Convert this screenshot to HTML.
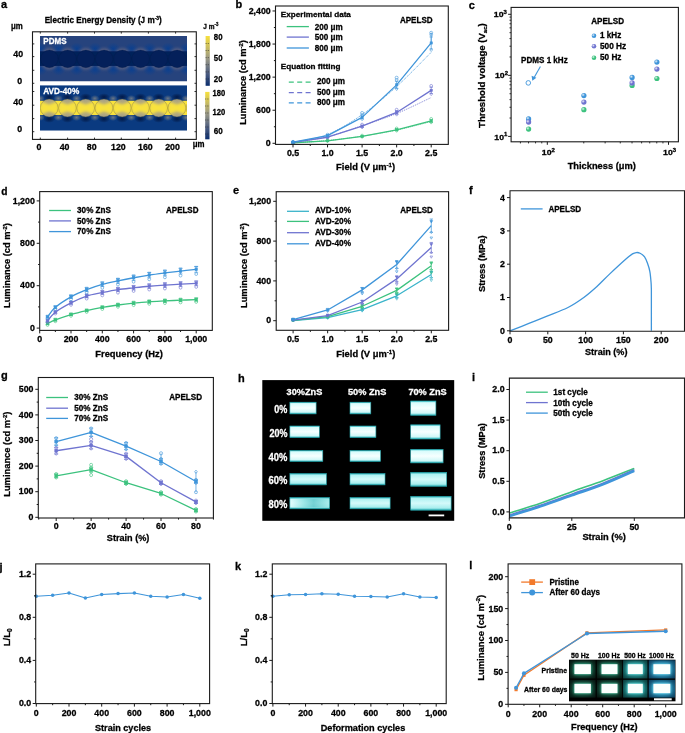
<!DOCTYPE html><html><head><meta charset="utf-8"><style>html,body{margin:0;padding:0;background:#fff;width:685px;height:733px;overflow:hidden}svg{display:block;will-change:transform}text{font-family:"Liberation Sans",sans-serif}</style></head><body>
<svg width="685" height="733" viewBox="0 0 685 733">
<rect width="685" height="733" fill="#fff"/>
<defs>
<linearGradient id="cbA" x1="0" y1="0" x2="0" y2="1">
 <stop offset="0" stop-color="#f7e03c"/><stop offset="0.45" stop-color="#9c9a86"/><stop offset="0.75" stop-color="#4d5d80"/><stop offset="1" stop-color="#0b2d6e"/></linearGradient>
<linearGradient id="circA" x1="0" y1="0" x2="0" y2="1">
 <stop offset="0" stop-color="#a8a186"/><stop offset="0.25" stop-color="#b4aa7c"/><stop offset="0.5" stop-color="#e6d44e"/><stop offset="0.75" stop-color="#b4aa7c"/><stop offset="1" stop-color="#a8a186"/></linearGradient>
<radialGradient id="glowP"><stop offset="0.78" stop-color="#827a8a" stop-opacity="0.75"/><stop offset="1" stop-color="#7a7488" stop-opacity="0"/></radialGradient>
<radialGradient id="glowB"><stop offset="0" stop-color="#0a4090" stop-opacity="0.95"/><stop offset="1" stop-color="#0a4090" stop-opacity="0"/></radialGradient>
<radialGradient id="darkA"><stop offset="0" stop-color="#021a4a" stop-opacity="1"/><stop offset="1" stop-color="#03143a" stop-opacity="0"/></radialGradient>
<radialGradient id="glowA"><stop offset="0" stop-color="#8a8a86" stop-opacity="0.75"/><stop offset="1" stop-color="#8a8a86" stop-opacity="0"/></radialGradient>
<radialGradient id="ball" cx="0.35" cy="0.35" r="0.7"><stop offset="0" stop-color="#fff" stop-opacity="0.85"/><stop offset="0.5" stop-color="#fff" stop-opacity="0"/></radialGradient>
<linearGradient id="strip" x1="0" y1="0" x2="0" y2="1"><stop offset="0" stop-color="#30c0c8"/><stop offset="0.12" stop-color="#d8fcfc"/><stop offset="0.5" stop-color="#f6ffff"/><stop offset="0.85" stop-color="#d0f8f8"/><stop offset="1" stop-color="#22b0b8"/></linearGradient>
<linearGradient id="strip2" x1="0" y1="0" x2="0" y2="1"><stop offset="0" stop-color="#28b0b8"/><stop offset="0.15" stop-color="#b0f2f2"/><stop offset="0.5" stop-color="#d4fafa"/><stop offset="0.85" stop-color="#a8eeee"/><stop offset="1" stop-color="#20a8b0"/></linearGradient>
<linearGradient id="strip3" x1="0" y1="0" x2="1" y2="0"><stop offset="0" stop-color="#f0ffff"/><stop offset="0.35" stop-color="#8ae0e0"/><stop offset="0.6" stop-color="#50c0c4"/><stop offset="1" stop-color="#9ae8e8"/></linearGradient>
<filter id="blur1" x="-50%" y="-50%" width="200%" height="200%"><feGaussianBlur stdDeviation="0.6"/></filter>
<filter id="blur2" x="-50%" y="-50%" width="200%" height="200%"><feGaussianBlur stdDeviation="1.5"/></filter>
</defs>
<text x="0.9" y="7.9" font-size="11" font-weight="bold" fill="#000" stroke="#000" stroke-width="0.28" >a</text>
<text x="44.7" y="23.4" font-size="8.4" font-weight="bold" fill="#000" stroke="#000" stroke-width="0.28" textLength="117" lengthAdjust="spacingAndGlyphs" >Electric Energy Density (J m<tspan font-size="5" dy="-3">-3</tspan><tspan dy="3">)</tspan></text>
<text x="11" y="29.3" font-size="8.4" font-weight="bold" fill="#000" stroke="#000" stroke-width="0.28" textLength="11.8" lengthAdjust="spacingAndGlyphs" >μm</text>
<clipPath id="clipP"><rect x="40" y="36" width="147" height="45.5"/></clipPath>
<clipPath id="clipA"><rect x="40" y="85.2" width="147" height="45.5"/></clipPath>
<g clip-path="url(#clipP)">
<rect x="40" y="36" width="147" height="45.5" fill="#26437d" />
<ellipse cx="40.27" cy="48.5" rx="7" ry="6" fill="url(#glowB)"/>
<ellipse cx="40.27" cy="69.5" rx="7" ry="6" fill="url(#glowB)"/>
<ellipse cx="58.52" cy="48.5" rx="7" ry="6" fill="url(#glowB)"/>
<ellipse cx="58.52" cy="69.5" rx="7" ry="6" fill="url(#glowB)"/>
<ellipse cx="76.78" cy="48.5" rx="7" ry="6" fill="url(#glowB)"/>
<ellipse cx="76.78" cy="69.5" rx="7" ry="6" fill="url(#glowB)"/>
<ellipse cx="95.03" cy="48.5" rx="7" ry="6" fill="url(#glowB)"/>
<ellipse cx="95.03" cy="69.5" rx="7" ry="6" fill="url(#glowB)"/>
<ellipse cx="113.28" cy="48.5" rx="7" ry="6" fill="url(#glowB)"/>
<ellipse cx="113.28" cy="69.5" rx="7" ry="6" fill="url(#glowB)"/>
<ellipse cx="131.53" cy="48.5" rx="7" ry="6" fill="url(#glowB)"/>
<ellipse cx="131.53" cy="69.5" rx="7" ry="6" fill="url(#glowB)"/>
<ellipse cx="149.78" cy="48.5" rx="7" ry="6" fill="url(#glowB)"/>
<ellipse cx="149.78" cy="69.5" rx="7" ry="6" fill="url(#glowB)"/>
<ellipse cx="168.03" cy="48.5" rx="7" ry="6" fill="url(#glowB)"/>
<ellipse cx="168.03" cy="69.5" rx="7" ry="6" fill="url(#glowB)"/>
<ellipse cx="186.28" cy="48.5" rx="7" ry="6" fill="url(#glowB)"/>
<ellipse cx="186.28" cy="69.5" rx="7" ry="6" fill="url(#glowB)"/>
<ellipse cx="204.53" cy="48.5" rx="7" ry="6" fill="url(#glowB)"/>
<ellipse cx="204.53" cy="69.5" rx="7" ry="6" fill="url(#glowB)"/>
<ellipse cx="31.15" cy="58.9" rx="9.5" ry="10.6" fill="#7d7688" opacity="0.6" filter="url(#blur2)"/>
<ellipse cx="49.4" cy="58.9" rx="9.5" ry="10.6" fill="#7d7688" opacity="0.6" filter="url(#blur2)"/>
<ellipse cx="67.65" cy="58.9" rx="9.5" ry="10.6" fill="#7d7688" opacity="0.6" filter="url(#blur2)"/>
<ellipse cx="85.9" cy="58.9" rx="9.5" ry="10.6" fill="#7d7688" opacity="0.6" filter="url(#blur2)"/>
<ellipse cx="104.15" cy="58.9" rx="9.5" ry="10.6" fill="#7d7688" opacity="0.6" filter="url(#blur2)"/>
<ellipse cx="122.4" cy="58.9" rx="9.5" ry="10.6" fill="#7d7688" opacity="0.6" filter="url(#blur2)"/>
<ellipse cx="140.65" cy="58.9" rx="9.5" ry="10.6" fill="#7d7688" opacity="0.6" filter="url(#blur2)"/>
<ellipse cx="158.9" cy="58.9" rx="9.5" ry="10.6" fill="#7d7688" opacity="0.6" filter="url(#blur2)"/>
<ellipse cx="177.15" cy="58.9" rx="9.5" ry="10.6" fill="#7d7688" opacity="0.6" filter="url(#blur2)"/>
<ellipse cx="195.4" cy="58.9" rx="9.5" ry="10.6" fill="#7d7688" opacity="0.6" filter="url(#blur2)"/>
<rect x="38" y="51.3" width="151" height="14.6" fill="#04205a" filter="url(#blur1)"/>
<circle cx="31.15" cy="58.9" r="8.8" fill="#04205a" stroke="#021a48" stroke-width="0.3"/>
<circle cx="49.4" cy="58.9" r="8.8" fill="#04205a" stroke="#021a48" stroke-width="0.3"/>
<circle cx="67.65" cy="58.9" r="8.8" fill="#04205a" stroke="#021a48" stroke-width="0.3"/>
<circle cx="85.9" cy="58.9" r="8.8" fill="#04205a" stroke="#021a48" stroke-width="0.3"/>
<circle cx="104.15" cy="58.9" r="8.8" fill="#04205a" stroke="#021a48" stroke-width="0.3"/>
<circle cx="122.4" cy="58.9" r="8.8" fill="#04205a" stroke="#021a48" stroke-width="0.3"/>
<circle cx="140.65" cy="58.9" r="8.8" fill="#04205a" stroke="#021a48" stroke-width="0.3"/>
<circle cx="158.9" cy="58.9" r="8.8" fill="#04205a" stroke="#021a48" stroke-width="0.3"/>
<circle cx="177.15" cy="58.9" r="8.8" fill="#04205a" stroke="#021a48" stroke-width="0.3"/>
<circle cx="195.4" cy="58.9" r="8.8" fill="#04205a" stroke="#021a48" stroke-width="0.3"/>
</g>
<text x="43.3" y="44.4" font-size="8.6" font-weight="bold" fill="#fff" stroke="#fff" stroke-width="0.28" textLength="23.2" lengthAdjust="spacingAndGlyphs" >PDMS</text>
<g clip-path="url(#clipA)">
<rect x="40" y="85.2" width="147" height="45.5" fill="#0a3a80" />
<ellipse cx="30.95" cy="97" rx="6" ry="3.8" fill="url(#darkA)"/>
<ellipse cx="30.95" cy="119" rx="6" ry="3.8" fill="url(#darkA)"/>
<ellipse cx="40.07" cy="98.5" rx="4.5" ry="3.5" fill="url(#glowA)"/>
<ellipse cx="40.07" cy="117.5" rx="4.5" ry="3.5" fill="url(#glowA)"/>
<ellipse cx="49.2" cy="97" rx="6" ry="3.8" fill="url(#darkA)"/>
<ellipse cx="49.2" cy="119" rx="6" ry="3.8" fill="url(#darkA)"/>
<ellipse cx="58.32" cy="98.5" rx="4.5" ry="3.5" fill="url(#glowA)"/>
<ellipse cx="58.32" cy="117.5" rx="4.5" ry="3.5" fill="url(#glowA)"/>
<ellipse cx="67.45" cy="97" rx="6" ry="3.8" fill="url(#darkA)"/>
<ellipse cx="67.45" cy="119" rx="6" ry="3.8" fill="url(#darkA)"/>
<ellipse cx="76.57" cy="98.5" rx="4.5" ry="3.5" fill="url(#glowA)"/>
<ellipse cx="76.57" cy="117.5" rx="4.5" ry="3.5" fill="url(#glowA)"/>
<ellipse cx="85.7" cy="97" rx="6" ry="3.8" fill="url(#darkA)"/>
<ellipse cx="85.7" cy="119" rx="6" ry="3.8" fill="url(#darkA)"/>
<ellipse cx="94.82" cy="98.5" rx="4.5" ry="3.5" fill="url(#glowA)"/>
<ellipse cx="94.82" cy="117.5" rx="4.5" ry="3.5" fill="url(#glowA)"/>
<ellipse cx="103.95" cy="97" rx="6" ry="3.8" fill="url(#darkA)"/>
<ellipse cx="103.95" cy="119" rx="6" ry="3.8" fill="url(#darkA)"/>
<ellipse cx="113.07" cy="98.5" rx="4.5" ry="3.5" fill="url(#glowA)"/>
<ellipse cx="113.07" cy="117.5" rx="4.5" ry="3.5" fill="url(#glowA)"/>
<ellipse cx="122.2" cy="97" rx="6" ry="3.8" fill="url(#darkA)"/>
<ellipse cx="122.2" cy="119" rx="6" ry="3.8" fill="url(#darkA)"/>
<ellipse cx="131.32" cy="98.5" rx="4.5" ry="3.5" fill="url(#glowA)"/>
<ellipse cx="131.32" cy="117.5" rx="4.5" ry="3.5" fill="url(#glowA)"/>
<ellipse cx="140.45" cy="97" rx="6" ry="3.8" fill="url(#darkA)"/>
<ellipse cx="140.45" cy="119" rx="6" ry="3.8" fill="url(#darkA)"/>
<ellipse cx="149.57" cy="98.5" rx="4.5" ry="3.5" fill="url(#glowA)"/>
<ellipse cx="149.57" cy="117.5" rx="4.5" ry="3.5" fill="url(#glowA)"/>
<ellipse cx="158.7" cy="97" rx="6" ry="3.8" fill="url(#darkA)"/>
<ellipse cx="158.7" cy="119" rx="6" ry="3.8" fill="url(#darkA)"/>
<ellipse cx="167.82" cy="98.5" rx="4.5" ry="3.5" fill="url(#glowA)"/>
<ellipse cx="167.82" cy="117.5" rx="4.5" ry="3.5" fill="url(#glowA)"/>
<ellipse cx="176.95" cy="97" rx="6" ry="3.8" fill="url(#darkA)"/>
<ellipse cx="176.95" cy="119" rx="6" ry="3.8" fill="url(#darkA)"/>
<ellipse cx="186.07" cy="98.5" rx="4.5" ry="3.5" fill="url(#glowA)"/>
<ellipse cx="186.07" cy="117.5" rx="4.5" ry="3.5" fill="url(#glowA)"/>
<ellipse cx="195.2" cy="97" rx="6" ry="3.8" fill="url(#darkA)"/>
<ellipse cx="195.2" cy="119" rx="6" ry="3.8" fill="url(#darkA)"/>
<ellipse cx="204.32" cy="98.5" rx="4.5" ry="3.5" fill="url(#glowA)"/>
<ellipse cx="204.32" cy="117.5" rx="4.5" ry="3.5" fill="url(#glowA)"/>
<rect x="38" y="100.8" width="151" height="14.2" fill="#f8e23c" filter="url(#blur1)"/>
<clipPath id="cc0"><circle cx="30.95" cy="108" r="8.9"/></clipPath>
<g clip-path="url(#cc0)"><rect x="22.05" y="99.1" width="17.8" height="17.8" fill="url(#circA)"/><polygon points="22.05,100.8 30.95,105 39.85,100.8 39.85,115.2 30.95,111 22.05,115.2" fill="#f8e23c" filter="url(#blur2)"/></g>
<circle cx="30.95" cy="108" r="8.9" fill="none" stroke="#6a6030" stroke-width="0.3"/>
<clipPath id="cc1"><circle cx="49.2" cy="108" r="8.9"/></clipPath>
<g clip-path="url(#cc1)"><rect x="40.3" y="99.1" width="17.8" height="17.8" fill="url(#circA)"/><polygon points="40.3,100.8 49.2,105 58.1,100.8 58.1,115.2 49.2,111 40.3,115.2" fill="#f8e23c" filter="url(#blur2)"/></g>
<circle cx="49.2" cy="108" r="8.9" fill="none" stroke="#6a6030" stroke-width="0.3"/>
<clipPath id="cc2"><circle cx="67.45" cy="108" r="8.9"/></clipPath>
<g clip-path="url(#cc2)"><rect x="58.55" y="99.1" width="17.8" height="17.8" fill="url(#circA)"/><polygon points="58.55,100.8 67.45,105 76.35,100.8 76.35,115.2 67.45,111 58.55,115.2" fill="#f8e23c" filter="url(#blur2)"/></g>
<circle cx="67.45" cy="108" r="8.9" fill="none" stroke="#6a6030" stroke-width="0.3"/>
<clipPath id="cc3"><circle cx="85.7" cy="108" r="8.9"/></clipPath>
<g clip-path="url(#cc3)"><rect x="76.8" y="99.1" width="17.8" height="17.8" fill="url(#circA)"/><polygon points="76.8,100.8 85.7,105 94.6,100.8 94.6,115.2 85.7,111 76.8,115.2" fill="#f8e23c" filter="url(#blur2)"/></g>
<circle cx="85.7" cy="108" r="8.9" fill="none" stroke="#6a6030" stroke-width="0.3"/>
<clipPath id="cc4"><circle cx="103.95" cy="108" r="8.9"/></clipPath>
<g clip-path="url(#cc4)"><rect x="95.05" y="99.1" width="17.8" height="17.8" fill="url(#circA)"/><polygon points="95.05,100.8 103.95,105 112.85,100.8 112.85,115.2 103.95,111 95.05,115.2" fill="#f8e23c" filter="url(#blur2)"/></g>
<circle cx="103.95" cy="108" r="8.9" fill="none" stroke="#6a6030" stroke-width="0.3"/>
<clipPath id="cc5"><circle cx="122.2" cy="108" r="8.9"/></clipPath>
<g clip-path="url(#cc5)"><rect x="113.3" y="99.1" width="17.8" height="17.8" fill="url(#circA)"/><polygon points="113.3,100.8 122.2,105 131.1,100.8 131.1,115.2 122.2,111 113.3,115.2" fill="#f8e23c" filter="url(#blur2)"/></g>
<circle cx="122.2" cy="108" r="8.9" fill="none" stroke="#6a6030" stroke-width="0.3"/>
<clipPath id="cc6"><circle cx="140.45" cy="108" r="8.9"/></clipPath>
<g clip-path="url(#cc6)"><rect x="131.55" y="99.1" width="17.8" height="17.8" fill="url(#circA)"/><polygon points="131.55,100.8 140.45,105 149.35,100.8 149.35,115.2 140.45,111 131.55,115.2" fill="#f8e23c" filter="url(#blur2)"/></g>
<circle cx="140.45" cy="108" r="8.9" fill="none" stroke="#6a6030" stroke-width="0.3"/>
<clipPath id="cc7"><circle cx="158.7" cy="108" r="8.9"/></clipPath>
<g clip-path="url(#cc7)"><rect x="149.8" y="99.1" width="17.8" height="17.8" fill="url(#circA)"/><polygon points="149.8,100.8 158.7,105 167.6,100.8 167.6,115.2 158.7,111 149.8,115.2" fill="#f8e23c" filter="url(#blur2)"/></g>
<circle cx="158.7" cy="108" r="8.9" fill="none" stroke="#6a6030" stroke-width="0.3"/>
<clipPath id="cc8"><circle cx="176.95" cy="108" r="8.9"/></clipPath>
<g clip-path="url(#cc8)"><rect x="168.05" y="99.1" width="17.8" height="17.8" fill="url(#circA)"/><polygon points="168.05,100.8 176.95,105 185.85,100.8 185.85,115.2 176.95,111 168.05,115.2" fill="#f8e23c" filter="url(#blur2)"/></g>
<circle cx="176.95" cy="108" r="8.9" fill="none" stroke="#6a6030" stroke-width="0.3"/>
<clipPath id="cc9"><circle cx="195.2" cy="108" r="8.9"/></clipPath>
<g clip-path="url(#cc9)"><rect x="186.3" y="99.1" width="17.8" height="17.8" fill="url(#circA)"/><polygon points="186.3,100.8 195.2,105 204.1,100.8 204.1,115.2 195.2,111 186.3,115.2" fill="#f8e23c" filter="url(#blur2)"/></g>
<circle cx="195.2" cy="108" r="8.9" fill="none" stroke="#6a6030" stroke-width="0.3"/>
</g>
<text x="43.3" y="94" font-size="8.6" font-weight="bold" fill="#fff" stroke="#fff" stroke-width="0.28" textLength="35.9" lengthAdjust="spacingAndGlyphs" >AVD-40%</text>
<rect x="32.5" y="31.8" width="163.8" height="107.6" fill="none" stroke="#1a1a1a" stroke-width="1.1" />
<line x1="32.5" y1="43.9" x2="34.3" y2="43.9" stroke="#1a1a1a" stroke-width="0.9" />
<line x1="194.5" y1="43.9" x2="196.3" y2="43.9" stroke="#1a1a1a" stroke-width="0.9" />
<line x1="32.5" y1="56.6" x2="34.3" y2="56.6" stroke="#1a1a1a" stroke-width="0.9" />
<line x1="194.5" y1="56.6" x2="196.3" y2="56.6" stroke="#1a1a1a" stroke-width="0.9" />
<line x1="32.5" y1="70.3" x2="34.3" y2="70.3" stroke="#1a1a1a" stroke-width="0.9" />
<line x1="194.5" y1="70.3" x2="196.3" y2="70.3" stroke="#1a1a1a" stroke-width="0.9" />
<line x1="32.5" y1="83.3" x2="34.3" y2="83.3" stroke="#1a1a1a" stroke-width="0.9" />
<line x1="194.5" y1="83.3" x2="196.3" y2="83.3" stroke="#1a1a1a" stroke-width="0.9" />
<line x1="32.5" y1="91.5" x2="34.3" y2="91.5" stroke="#1a1a1a" stroke-width="0.9" />
<line x1="194.5" y1="91.5" x2="196.3" y2="91.5" stroke="#1a1a1a" stroke-width="0.9" />
<line x1="32.5" y1="105.2" x2="34.3" y2="105.2" stroke="#1a1a1a" stroke-width="0.9" />
<line x1="194.5" y1="105.2" x2="196.3" y2="105.2" stroke="#1a1a1a" stroke-width="0.9" />
<line x1="32.5" y1="118.6" x2="34.3" y2="118.6" stroke="#1a1a1a" stroke-width="0.9" />
<line x1="194.5" y1="118.6" x2="196.3" y2="118.6" stroke="#1a1a1a" stroke-width="0.9" />
<line x1="32.5" y1="131.7" x2="34.3" y2="131.7" stroke="#1a1a1a" stroke-width="0.9" />
<line x1="194.5" y1="131.7" x2="196.3" y2="131.7" stroke="#1a1a1a" stroke-width="0.9" />
<line x1="40.3" y1="31.8" x2="40.3" y2="33.6" stroke="#1a1a1a" stroke-width="0.9" />
<line x1="40.3" y1="137.6" x2="40.3" y2="139.4" stroke="#1a1a1a" stroke-width="0.9" />
<line x1="67.6" y1="31.8" x2="67.6" y2="33.6" stroke="#1a1a1a" stroke-width="0.9" />
<line x1="67.6" y1="137.6" x2="67.6" y2="139.4" stroke="#1a1a1a" stroke-width="0.9" />
<line x1="94.5" y1="31.8" x2="94.5" y2="33.6" stroke="#1a1a1a" stroke-width="0.9" />
<line x1="94.5" y1="137.6" x2="94.5" y2="139.4" stroke="#1a1a1a" stroke-width="0.9" />
<line x1="121.3" y1="31.8" x2="121.3" y2="33.6" stroke="#1a1a1a" stroke-width="0.9" />
<line x1="121.3" y1="137.6" x2="121.3" y2="139.4" stroke="#1a1a1a" stroke-width="0.9" />
<line x1="148.4" y1="31.8" x2="148.4" y2="33.6" stroke="#1a1a1a" stroke-width="0.9" />
<line x1="148.4" y1="137.6" x2="148.4" y2="139.4" stroke="#1a1a1a" stroke-width="0.9" />
<line x1="175.6" y1="31.8" x2="175.6" y2="33.6" stroke="#1a1a1a" stroke-width="0.9" />
<line x1="175.6" y1="137.6" x2="175.6" y2="139.4" stroke="#1a1a1a" stroke-width="0.9" />
<text x="39" y="150" font-size="8.8" font-weight="bold" fill="#000" stroke="#000" stroke-width="0.28" text-anchor="middle" >0</text>
<text x="64.6" y="150" font-size="8.8" font-weight="bold" fill="#000" stroke="#000" stroke-width="0.28" text-anchor="middle" >40</text>
<text x="91.7" y="150" font-size="8.8" font-weight="bold" fill="#000" stroke="#000" stroke-width="0.28" text-anchor="middle" >80</text>
<text x="118.4" y="150" font-size="8.8" font-weight="bold" fill="#000" stroke="#000" stroke-width="0.28" text-anchor="middle" >120</text>
<text x="145.4" y="150" font-size="8.8" font-weight="bold" fill="#000" stroke="#000" stroke-width="0.28" text-anchor="middle" >160</text>
<text x="172.5" y="150" font-size="8.8" font-weight="bold" fill="#000" stroke="#000" stroke-width="0.28" text-anchor="middle" >200</text>
<text x="23.1" y="57" font-size="8.8" font-weight="bold" fill="#000" stroke="#000" stroke-width="0.28" text-anchor="end" >40</text>
<text x="22.2" y="83.5" font-size="8.8" font-weight="bold" fill="#000" stroke="#000" stroke-width="0.28" text-anchor="end" >0</text>
<text x="23.1" y="104.8" font-size="8.8" font-weight="bold" fill="#000" stroke="#000" stroke-width="0.28" text-anchor="end" >40</text>
<text x="22.2" y="131.5" font-size="8.8" font-weight="bold" fill="#000" stroke="#000" stroke-width="0.28" text-anchor="end" >0</text>
<text x="192.8" y="147" font-size="8.4" font-weight="bold" fill="#000" stroke="#000" stroke-width="0.28" textLength="11.8" lengthAdjust="spacingAndGlyphs" >μm</text>
<rect x="205.6" y="36" width="4.2" height="49.8" fill="url(#cbA)" />
<rect x="205.2" y="91.9" width="4.3" height="47.4" fill="url(#cbA)" />
<line x1="205.6" y1="43.5" x2="209.8" y2="43.5" stroke="#222" stroke-width="0.6" stroke-dasharray="1 1.2"/>
<line x1="205.6" y1="50.5" x2="209.8" y2="50.5" stroke="#222" stroke-width="0.6" stroke-dasharray="1 1.2"/>
<line x1="205.6" y1="57.6" x2="209.8" y2="57.6" stroke="#222" stroke-width="0.6" stroke-dasharray="1 1.2"/>
<line x1="205.6" y1="64.7" x2="209.8" y2="64.7" stroke="#222" stroke-width="0.6" stroke-dasharray="1 1.2"/>
<line x1="205.6" y1="71.9" x2="209.8" y2="71.9" stroke="#222" stroke-width="0.6" stroke-dasharray="1 1.2"/>
<line x1="205.6" y1="79" x2="209.8" y2="79" stroke="#222" stroke-width="0.6" stroke-dasharray="1 1.2"/>
<line x1="205.2" y1="99" x2="209.5" y2="99" stroke="#222" stroke-width="0.6" stroke-dasharray="1 1.2"/>
<line x1="205.2" y1="106" x2="209.5" y2="106" stroke="#222" stroke-width="0.6" stroke-dasharray="1 1.2"/>
<line x1="205.2" y1="113" x2="209.5" y2="113" stroke="#222" stroke-width="0.6" stroke-dasharray="1 1.2"/>
<line x1="205.2" y1="120" x2="209.5" y2="120" stroke="#222" stroke-width="0.6" stroke-dasharray="1 1.2"/>
<line x1="205.2" y1="127" x2="209.5" y2="127" stroke="#222" stroke-width="0.6" stroke-dasharray="1 1.2"/>
<line x1="205.2" y1="134" x2="209.5" y2="134" stroke="#222" stroke-width="0.6" stroke-dasharray="1 1.2"/>
<text x="203.3" y="28.8" font-size="6.8" font-weight="bold" fill="#000" stroke="#000" stroke-width="0.28" textLength="15" lengthAdjust="spacingAndGlyphs" >J m<tspan font-size="4.5" dy="-2.5">-3</tspan></text>
<text x="213.8" y="40" font-size="8.8" font-weight="bold" fill="#000" stroke="#000" stroke-width="0.28" textLength="8.7" lengthAdjust="spacingAndGlyphs" >80</text>
<text x="213.8" y="61.4" font-size="8.8" font-weight="bold" fill="#000" stroke="#000" stroke-width="0.28" textLength="8.7" lengthAdjust="spacingAndGlyphs" >50</text>
<text x="213.8" y="81.8" font-size="8.8" font-weight="bold" fill="#000" stroke="#000" stroke-width="0.28" textLength="8.7" lengthAdjust="spacingAndGlyphs" >20</text>
<text x="212.5" y="96.3" font-size="8.8" font-weight="bold" fill="#000" stroke="#000" stroke-width="0.28" textLength="12.7" lengthAdjust="spacingAndGlyphs" >180</text>
<text x="212.5" y="114.7" font-size="8.8" font-weight="bold" fill="#000" stroke="#000" stroke-width="0.28" textLength="12.7" lengthAdjust="spacingAndGlyphs" >120</text>
<text x="213.8" y="133.6" font-size="8.8" font-weight="bold" fill="#000" stroke="#000" stroke-width="0.28" textLength="9" lengthAdjust="spacingAndGlyphs" >60</text>
<text x="235.5" y="7.9" font-size="11" font-weight="bold" fill="#000" stroke="#000" stroke-width="0.28" >b</text>
<path d="M293,142.86 C298.76,142.47 316.03,141.66 327.55,140.54 C339.07,139.42 350.58,137.88 362.1,136.13 C373.62,134.39 385.13,132.5 396.65,130.07 C408.17,127.63 425.44,122.95 431.2,121.52" fill="none" stroke="#3cc27e" stroke-width="0.9" stroke-dasharray="1 1"/>
<path d="M293,142.64 C298.76,141.65 316.03,139.51 327.55,136.68 C339.07,133.85 350.58,129.52 362.1,125.66 C373.62,121.8 385.13,118.21 396.65,113.53 C408.17,108.84 425.44,100.2 431.2,97.54" fill="none" stroke="#6f74d0" stroke-width="0.9" stroke-dasharray="1 1"/>
<path d="M293,142.31 C298.76,141 316.03,139.09 327.55,134.48 C339.07,129.87 350.58,122.63 362.1,114.63 C373.62,106.64 385.13,96.9 396.65,86.51 C408.17,76.13 425.44,58.03 431.2,52.33" fill="none" stroke="#3f95da" stroke-width="0.9" stroke-dasharray="1 1"/>
<polyline points="293,142.75 327.55,140.82 362.1,136.41 396.65,129.79 431.2,120.97" fill="none" stroke="#3cc27e" stroke-width="1.3" stroke-linejoin="round" />
<line x1="293" y1="142.42" x2="293" y2="143.08" stroke="#3cc27e" stroke-width="0.7" />
<line x1="291.3" y1="142.42" x2="294.7" y2="142.42" stroke="#3cc27e" stroke-width="0.7" />
<line x1="291.3" y1="143.08" x2="294.7" y2="143.08" stroke="#3cc27e" stroke-width="0.7" />
<circle cx="293" cy="142.43" r="1.4" fill="none" stroke="#3cc27e" stroke-width="0.6"/>
<polygon points="293,141.23 294.3,142.79 293,144.35 291.7,142.79" fill="none" stroke="#3cc27e" stroke-width="0.6"/>
<rect x="291.9" y="141.65" width="2.2" height="2.2" fill="#3cc27e" stroke="#3cc27e" stroke-width="0.6"/>
<line x1="327.55" y1="140.49" x2="327.55" y2="141.15" stroke="#3cc27e" stroke-width="0.7" />
<line x1="325.85" y1="140.49" x2="329.25" y2="140.49" stroke="#3cc27e" stroke-width="0.7" />
<line x1="325.85" y1="141.15" x2="329.25" y2="141.15" stroke="#3cc27e" stroke-width="0.7" />
<circle cx="327.55" cy="140.34" r="1.4" fill="none" stroke="#3cc27e" stroke-width="0.6"/>
<polygon points="327.55,139.43 328.85,140.99 327.55,142.55 326.25,140.99" fill="none" stroke="#3cc27e" stroke-width="0.6"/>
<rect x="326.45" y="139.72" width="2.2" height="2.2" fill="#3cc27e" stroke="#3cc27e" stroke-width="0.6"/>
<line x1="362.1" y1="135.99" x2="362.1" y2="136.82" stroke="#3cc27e" stroke-width="0.7" />
<line x1="360.4" y1="135.99" x2="363.8" y2="135.99" stroke="#3cc27e" stroke-width="0.7" />
<line x1="360.4" y1="136.82" x2="363.8" y2="136.82" stroke="#3cc27e" stroke-width="0.7" />
<circle cx="362.1" cy="135.58" r="1.4" fill="none" stroke="#3cc27e" stroke-width="0.6"/>
<polygon points="362.1,135.33 363.4,136.89 362.1,138.45 360.8,136.89" fill="none" stroke="#3cc27e" stroke-width="0.6"/>
<rect x="361" y="135.31" width="2.2" height="2.2" fill="#3cc27e" stroke="#3cc27e" stroke-width="0.6"/>
<line x1="396.65" y1="128.98" x2="396.65" y2="130.6" stroke="#3cc27e" stroke-width="0.7" />
<line x1="394.95" y1="128.98" x2="398.35" y2="128.98" stroke="#3cc27e" stroke-width="0.7" />
<line x1="394.95" y1="130.6" x2="398.35" y2="130.6" stroke="#3cc27e" stroke-width="0.7" />
<circle cx="396.65" cy="128.44" r="1.4" fill="none" stroke="#3cc27e" stroke-width="0.6"/>
<polygon points="396.65,129.18 397.95,130.74 396.65,132.3 395.35,130.74" fill="none" stroke="#3cc27e" stroke-width="0.6"/>
<rect x="395.55" y="128.69" width="2.2" height="2.2" fill="#3cc27e" stroke="#3cc27e" stroke-width="0.6"/>
<line x1="431.2" y1="119.63" x2="431.2" y2="122.31" stroke="#3cc27e" stroke-width="0.7" />
<line x1="429.5" y1="119.63" x2="432.9" y2="119.63" stroke="#3cc27e" stroke-width="0.7" />
<line x1="429.5" y1="122.31" x2="432.9" y2="122.31" stroke="#3cc27e" stroke-width="0.7" />
<circle cx="431.2" cy="118.91" r="1.4" fill="none" stroke="#3cc27e" stroke-width="0.6"/>
<polygon points="431.2,120.97 432.5,122.53 431.2,124.09 429.9,122.53" fill="none" stroke="#3cc27e" stroke-width="0.6"/>
<rect x="430.1" y="119.87" width="2.2" height="2.2" fill="#3cc27e" stroke="#3cc27e" stroke-width="0.6"/>
<polyline points="293,142.47 327.55,137.24 362.1,126.21 396.65,112.43 431.2,90.37" fill="none" stroke="#6f74d0" stroke-width="1.3" stroke-linejoin="round" />
<line x1="293" y1="142.14" x2="293" y2="142.8" stroke="#6f74d0" stroke-width="0.7" />
<line x1="291.3" y1="142.14" x2="294.7" y2="142.14" stroke="#6f74d0" stroke-width="0.7" />
<line x1="291.3" y1="142.8" x2="294.7" y2="142.8" stroke="#6f74d0" stroke-width="0.7" />
<circle cx="293" cy="142.13" r="1.4" fill="none" stroke="#6f74d0" stroke-width="0.6"/>
<polygon points="293,140.97 294.3,142.53 293,144.09 291.7,142.53" fill="none" stroke="#6f74d0" stroke-width="0.6"/>
<rect x="291.9" y="141.37" width="2.2" height="2.2" fill="#6f74d0" stroke="#6f74d0" stroke-width="0.6"/>
<line x1="327.55" y1="136.87" x2="327.55" y2="137.6" stroke="#6f74d0" stroke-width="0.7" />
<line x1="325.85" y1="136.87" x2="329.25" y2="136.87" stroke="#6f74d0" stroke-width="0.7" />
<line x1="325.85" y1="137.6" x2="329.25" y2="137.6" stroke="#6f74d0" stroke-width="0.7" />
<circle cx="327.55" cy="136.47" r="1.4" fill="none" stroke="#6f74d0" stroke-width="0.6"/>
<polygon points="327.55,136.1 328.85,137.66 327.55,139.22 326.25,137.66" fill="none" stroke="#6f74d0" stroke-width="0.6"/>
<rect x="326.45" y="136.14" width="2.2" height="2.2" fill="#6f74d0" stroke="#6f74d0" stroke-width="0.6"/>
<line x1="362.1" y1="125.18" x2="362.1" y2="127.23" stroke="#6f74d0" stroke-width="0.7" />
<line x1="360.4" y1="125.18" x2="363.8" y2="125.18" stroke="#6f74d0" stroke-width="0.7" />
<line x1="360.4" y1="127.23" x2="363.8" y2="127.23" stroke="#6f74d0" stroke-width="0.7" />
<circle cx="362.1" cy="124.57" r="1.4" fill="none" stroke="#6f74d0" stroke-width="0.6"/>
<polygon points="362.1,125.85 363.4,127.41 362.1,128.97 360.8,127.41" fill="none" stroke="#6f74d0" stroke-width="0.6"/>
<rect x="361" y="125.11" width="2.2" height="2.2" fill="#6f74d0" stroke="#6f74d0" stroke-width="0.6"/>
<line x1="396.65" y1="110.57" x2="396.65" y2="114.28" stroke="#6f74d0" stroke-width="0.7" />
<line x1="394.95" y1="110.57" x2="398.35" y2="110.57" stroke="#6f74d0" stroke-width="0.7" />
<line x1="394.95" y1="114.28" x2="398.35" y2="114.28" stroke="#6f74d0" stroke-width="0.7" />
<circle cx="396.65" cy="109.68" r="1.4" fill="none" stroke="#6f74d0" stroke-width="0.6"/>
<polygon points="396.65,113.03 397.95,114.59 396.65,116.15 395.35,114.59" fill="none" stroke="#6f74d0" stroke-width="0.6"/>
<rect x="395.55" y="111.33" width="2.2" height="2.2" fill="#6f74d0" stroke="#6f74d0" stroke-width="0.6"/>
<line x1="431.2" y1="87.2" x2="431.2" y2="93.55" stroke="#6f74d0" stroke-width="0.7" />
<line x1="429.5" y1="87.2" x2="432.9" y2="87.2" stroke="#6f74d0" stroke-width="0.7" />
<line x1="429.5" y1="93.55" x2="432.9" y2="93.55" stroke="#6f74d0" stroke-width="0.7" />
<circle cx="431.2" cy="85.86" r="1.4" fill="none" stroke="#6f74d0" stroke-width="0.6"/>
<polygon points="431.2,92.52 432.5,94.08 431.2,95.64 429.9,94.08" fill="none" stroke="#6f74d0" stroke-width="0.6"/>
<rect x="430.1" y="89.27" width="2.2" height="2.2" fill="#6f74d0" stroke="#6f74d0" stroke-width="0.6"/>
<polyline points="293,142.09 327.55,135.58 362.1,117.39 396.65,84.86 431.2,42.96" fill="none" stroke="#3f95da" stroke-width="1.3" stroke-linejoin="round" />
<line x1="293" y1="141.76" x2="293" y2="142.42" stroke="#3f95da" stroke-width="0.7" />
<line x1="291.3" y1="141.76" x2="294.7" y2="141.76" stroke="#3f95da" stroke-width="0.7" />
<line x1="291.3" y1="142.42" x2="294.7" y2="142.42" stroke="#3f95da" stroke-width="0.7" />
<circle cx="293" cy="141.71" r="1.4" fill="none" stroke="#3f95da" stroke-width="0.6"/>
<polygon points="293,140.61 294.3,142.17 293,143.73 291.7,142.17" fill="none" stroke="#3f95da" stroke-width="0.6"/>
<rect x="291.9" y="140.99" width="2.2" height="2.2" fill="#3f95da" stroke="#3f95da" stroke-width="0.6"/>
<line x1="327.55" y1="135.12" x2="327.55" y2="136.04" stroke="#3f95da" stroke-width="0.7" />
<line x1="325.85" y1="135.12" x2="329.25" y2="135.12" stroke="#3f95da" stroke-width="0.7" />
<line x1="325.85" y1="136.04" x2="329.25" y2="136.04" stroke="#3f95da" stroke-width="0.7" />
<circle cx="327.55" cy="134.69" r="1.4" fill="none" stroke="#3f95da" stroke-width="0.6"/>
<polygon points="327.55,134.56 328.85,136.12 327.55,137.68 326.25,136.12" fill="none" stroke="#3f95da" stroke-width="0.6"/>
<rect x="326.45" y="134.48" width="2.2" height="2.2" fill="#3f95da" stroke="#3f95da" stroke-width="0.6"/>
<line x1="362.1" y1="115.83" x2="362.1" y2="118.94" stroke="#3f95da" stroke-width="0.7" />
<line x1="360.4" y1="115.83" x2="363.8" y2="115.83" stroke="#3f95da" stroke-width="0.7" />
<line x1="360.4" y1="118.94" x2="363.8" y2="118.94" stroke="#3f95da" stroke-width="0.7" />
<circle cx="362.1" cy="115.04" r="1.4" fill="none" stroke="#3f95da" stroke-width="0.6"/>
<polygon points="362.1,117.64 363.4,119.2 362.1,120.76 360.8,119.2" fill="none" stroke="#3f95da" stroke-width="0.6"/>
<rect x="361" y="116.29" width="2.2" height="2.2" fill="#3f95da" stroke="#3f95da" stroke-width="0.6"/>
<line x1="396.65" y1="81.35" x2="396.65" y2="88.37" stroke="#3f95da" stroke-width="0.7" />
<line x1="394.95" y1="81.35" x2="398.35" y2="81.35" stroke="#3f95da" stroke-width="0.7" />
<line x1="394.95" y1="88.37" x2="398.35" y2="88.37" stroke="#3f95da" stroke-width="0.7" />
<circle cx="396.65" cy="79.91" r="1.4" fill="none" stroke="#3f95da" stroke-width="0.6"/>
<polygon points="396.65,87.39 397.95,88.95 396.65,90.51 395.35,88.95" fill="none" stroke="#3f95da" stroke-width="0.6"/>
<rect x="395.55" y="83.76" width="2.2" height="2.2" fill="#3f95da" stroke="#3f95da" stroke-width="0.6"/>
<line x1="431.2" y1="36.94" x2="431.2" y2="48.98" stroke="#3f95da" stroke-width="0.7" />
<line x1="429.5" y1="36.94" x2="432.9" y2="36.94" stroke="#3f95da" stroke-width="0.7" />
<line x1="429.5" y1="48.98" x2="432.9" y2="48.98" stroke="#3f95da" stroke-width="0.7" />
<circle cx="431.2" cy="34.65" r="1.4" fill="none" stroke="#3f95da" stroke-width="0.6"/>
<polygon points="431.2,48.42 432.5,49.98 431.2,51.54 429.9,49.98" fill="none" stroke="#3f95da" stroke-width="0.6"/>
<rect x="430.1" y="41.86" width="2.2" height="2.2" fill="#3f95da" stroke="#3f95da" stroke-width="0.6"/>
<circle cx="431.2" cy="32.76" r="1.5" fill="none" stroke="#3f95da" stroke-width="0.6"/>
<line x1="431.2" y1="32.76" x2="431.2" y2="42.96" stroke="#3f95da" stroke-width="0.7" />
<circle cx="396.65" cy="77.69" r="1.5" fill="none" stroke="#3f95da" stroke-width="0.6"/>
<circle cx="362.1" cy="112.98" r="1.5" fill="none" stroke="#3f95da" stroke-width="0.6"/>
<rect x="275.5" y="6" width="172.8" height="138.4" fill="none" stroke="#1a1a1a" stroke-width="1.1" />
<line x1="272.5" y1="143.3" x2="275.5" y2="143.3" stroke="#1a1a1a" stroke-width="1" />
<line x1="272.5" y1="110.22" x2="275.5" y2="110.22" stroke="#1a1a1a" stroke-width="1" />
<line x1="272.5" y1="77.14" x2="275.5" y2="77.14" stroke="#1a1a1a" stroke-width="1" />
<line x1="272.5" y1="44.06" x2="275.5" y2="44.06" stroke="#1a1a1a" stroke-width="1" />
<line x1="272.5" y1="10.98" x2="275.5" y2="10.98" stroke="#1a1a1a" stroke-width="1" />
<line x1="273.9" y1="126.76" x2="275.5" y2="126.76" stroke="#1a1a1a" stroke-width="1" />
<line x1="273.9" y1="93.68" x2="275.5" y2="93.68" stroke="#1a1a1a" stroke-width="1" />
<line x1="273.9" y1="60.6" x2="275.5" y2="60.6" stroke="#1a1a1a" stroke-width="1" />
<line x1="273.9" y1="27.52" x2="275.5" y2="27.52" stroke="#1a1a1a" stroke-width="1" />
<text x="270.7" y="146.1" font-size="8.8" font-weight="bold" fill="#000" stroke="#000" stroke-width="0.28" text-anchor="end" >0</text>
<text x="270.7" y="113.02" font-size="8.8" font-weight="bold" fill="#000" stroke="#000" stroke-width="0.28" text-anchor="end" >600</text>
<text x="270.7" y="79.94" font-size="8.8" font-weight="bold" fill="#000" stroke="#000" stroke-width="0.28" text-anchor="end" >1,200</text>
<text x="270.7" y="46.86" font-size="8.8" font-weight="bold" fill="#000" stroke="#000" stroke-width="0.28" text-anchor="end" >1,800</text>
<text x="270.7" y="13.78" font-size="8.8" font-weight="bold" fill="#000" stroke="#000" stroke-width="0.28" text-anchor="end" >2,400</text>
<line x1="293" y1="144.4" x2="293" y2="147.4" stroke="#1a1a1a" stroke-width="1" />
<line x1="327.55" y1="144.4" x2="327.55" y2="147.4" stroke="#1a1a1a" stroke-width="1" />
<line x1="362.1" y1="144.4" x2="362.1" y2="147.4" stroke="#1a1a1a" stroke-width="1" />
<line x1="396.65" y1="144.4" x2="396.65" y2="147.4" stroke="#1a1a1a" stroke-width="1" />
<line x1="431.2" y1="144.4" x2="431.2" y2="147.4" stroke="#1a1a1a" stroke-width="1" />
<line x1="310.27" y1="144.4" x2="310.27" y2="146" stroke="#1a1a1a" stroke-width="1" />
<line x1="344.82" y1="144.4" x2="344.82" y2="146" stroke="#1a1a1a" stroke-width="1" />
<line x1="379.38" y1="144.4" x2="379.38" y2="146" stroke="#1a1a1a" stroke-width="1" />
<line x1="413.92" y1="144.4" x2="413.92" y2="146" stroke="#1a1a1a" stroke-width="1" />
<text x="293" y="156.3" font-size="8.8" font-weight="bold" fill="#000" stroke="#000" stroke-width="0.28" text-anchor="middle" >0.5</text>
<text x="327.55" y="156.3" font-size="8.8" font-weight="bold" fill="#000" stroke="#000" stroke-width="0.28" text-anchor="middle" >1.0</text>
<text x="362.1" y="156.3" font-size="8.8" font-weight="bold" fill="#000" stroke="#000" stroke-width="0.28" text-anchor="middle" >1.5</text>
<text x="396.65" y="156.3" font-size="8.8" font-weight="bold" fill="#000" stroke="#000" stroke-width="0.28" text-anchor="middle" >2.0</text>
<text x="431.2" y="156.3" font-size="8.8" font-weight="bold" fill="#000" stroke="#000" stroke-width="0.28" text-anchor="middle" >2.5</text>
<text x="246.1" y="124.8" font-size="9.6" font-weight="bold" fill="#000" stroke="#000" stroke-width="0.28" textLength="84.6" lengthAdjust="spacingAndGlyphs" transform="rotate(-90 246.1 124.8)" >Luminance (cd m<tspan font-size="6" dy="-3.5">-2</tspan><tspan dy="3.5">)</tspan></text>
<text x="336.1" y="170.1" font-size="9.2" font-weight="bold" fill="#000" stroke="#000" stroke-width="0.28" textLength="59" lengthAdjust="spacingAndGlyphs" >Field (V μm<tspan font-size="6" dy="-3.5">-1</tspan><tspan dy="3.5">)</tspan></text>
<text x="280.8" y="16.7" font-size="8" font-weight="bold" fill="#000" stroke="#000" stroke-width="0.28" textLength="70.1" lengthAdjust="spacingAndGlyphs" >Experimental data</text>
<line x1="286.7" y1="26.6" x2="308.9" y2="26.6" stroke="#3cc27e" stroke-width="1.3" />
<line x1="286.7" y1="37.1" x2="308.9" y2="37.1" stroke="#6f74d0" stroke-width="1.3" />
<line x1="286.7" y1="48" x2="308.9" y2="48" stroke="#3f95da" stroke-width="1.3" />
<text x="314.7" y="29.5" font-size="8.4" font-weight="bold" fill="#000" stroke="#000" stroke-width="0.28" textLength="28" lengthAdjust="spacingAndGlyphs" >200 μm</text>
<text x="314.7" y="40.2" font-size="8.4" font-weight="bold" fill="#000" stroke="#000" stroke-width="0.28" textLength="28" lengthAdjust="spacingAndGlyphs" >500 μm</text>
<text x="314.7" y="50.9" font-size="8.4" font-weight="bold" fill="#000" stroke="#000" stroke-width="0.28" textLength="28" lengthAdjust="spacingAndGlyphs" >800 μm</text>
<text x="280.8" y="68.8" font-size="8" font-weight="bold" fill="#000" stroke="#000" stroke-width="0.28" textLength="59.6" lengthAdjust="spacingAndGlyphs" >Equation fitting</text>
<line x1="288.8" y1="82.1" x2="310.6" y2="82.1" stroke="#3cc27e" stroke-width="1.3" stroke-dasharray="5 3.4"/>
<line x1="288.8" y1="92.6" x2="310.6" y2="92.6" stroke="#6f74d0" stroke-width="1.3" stroke-dasharray="5 3.4"/>
<line x1="288.8" y1="102.9" x2="310.6" y2="102.9" stroke="#3f95da" stroke-width="1.3" stroke-dasharray="5 3.4"/>
<text x="317" y="84.2" font-size="8.4" font-weight="bold" fill="#000" stroke="#000" stroke-width="0.28" textLength="28" lengthAdjust="spacingAndGlyphs" >200 μm</text>
<text x="317" y="94.7" font-size="8.4" font-weight="bold" fill="#000" stroke="#000" stroke-width="0.28" textLength="28" lengthAdjust="spacingAndGlyphs" >500 μm</text>
<text x="317" y="105" font-size="8.4" font-weight="bold" fill="#000" stroke="#000" stroke-width="0.28" textLength="28" lengthAdjust="spacingAndGlyphs" >800 μm</text>
<text x="399.9" y="22.6" font-size="8.4" font-weight="bold" fill="#000" stroke="#000" stroke-width="0.28" textLength="32.7" lengthAdjust="spacingAndGlyphs" >APELSD</text>
<text x="468.7" y="8.5" font-size="11" font-weight="bold" fill="#000" stroke="#000" stroke-width="0.28" >c</text>
<rect x="511.1" y="7.4" width="167.3" height="134.4" fill="none" stroke="#1a1a1a" stroke-width="1.1" />
<line x1="508.1" y1="136.4" x2="511.1" y2="136.4" stroke="#1a1a1a" stroke-width="1" />
<line x1="508.1" y1="75.35" x2="511.1" y2="75.35" stroke="#1a1a1a" stroke-width="1" />
<line x1="508.1" y1="14.3" x2="511.1" y2="14.3" stroke="#1a1a1a" stroke-width="1" />
<line x1="509.5" y1="118.02" x2="511.1" y2="118.02" stroke="#1a1a1a" stroke-width="0.9" />
<line x1="509.5" y1="107.27" x2="511.1" y2="107.27" stroke="#1a1a1a" stroke-width="0.9" />
<line x1="509.5" y1="99.64" x2="511.1" y2="99.64" stroke="#1a1a1a" stroke-width="0.9" />
<line x1="509.5" y1="93.73" x2="511.1" y2="93.73" stroke="#1a1a1a" stroke-width="0.9" />
<line x1="509.5" y1="88.89" x2="511.1" y2="88.89" stroke="#1a1a1a" stroke-width="0.9" />
<line x1="509.5" y1="84.81" x2="511.1" y2="84.81" stroke="#1a1a1a" stroke-width="0.9" />
<line x1="509.5" y1="81.27" x2="511.1" y2="81.27" stroke="#1a1a1a" stroke-width="0.9" />
<line x1="509.5" y1="78.14" x2="511.1" y2="78.14" stroke="#1a1a1a" stroke-width="0.9" />
<line x1="509.5" y1="56.97" x2="511.1" y2="56.97" stroke="#1a1a1a" stroke-width="0.9" />
<line x1="509.5" y1="46.22" x2="511.1" y2="46.22" stroke="#1a1a1a" stroke-width="0.9" />
<line x1="509.5" y1="38.59" x2="511.1" y2="38.59" stroke="#1a1a1a" stroke-width="0.9" />
<line x1="509.5" y1="32.68" x2="511.1" y2="32.68" stroke="#1a1a1a" stroke-width="0.9" />
<line x1="509.5" y1="27.84" x2="511.1" y2="27.84" stroke="#1a1a1a" stroke-width="0.9" />
<line x1="509.5" y1="23.76" x2="511.1" y2="23.76" stroke="#1a1a1a" stroke-width="0.9" />
<line x1="509.5" y1="20.22" x2="511.1" y2="20.22" stroke="#1a1a1a" stroke-width="0.9" />
<line x1="509.5" y1="17.09" x2="511.1" y2="17.09" stroke="#1a1a1a" stroke-width="0.9" />
<line x1="520.41" y1="141.8" x2="520.41" y2="143.4" stroke="#1a1a1a" stroke-width="0.9" />
<line x1="528.53" y1="141.8" x2="528.53" y2="143.4" stroke="#1a1a1a" stroke-width="0.9" />
<line x1="535.55" y1="141.8" x2="535.55" y2="143.4" stroke="#1a1a1a" stroke-width="0.9" />
<line x1="541.75" y1="141.8" x2="541.75" y2="143.4" stroke="#1a1a1a" stroke-width="0.9" />
<line x1="583.78" y1="141.8" x2="583.78" y2="143.4" stroke="#1a1a1a" stroke-width="0.9" />
<line x1="605.13" y1="141.8" x2="605.13" y2="143.4" stroke="#1a1a1a" stroke-width="0.9" />
<line x1="620.27" y1="141.8" x2="620.27" y2="143.4" stroke="#1a1a1a" stroke-width="0.9" />
<line x1="632.02" y1="141.8" x2="632.02" y2="143.4" stroke="#1a1a1a" stroke-width="0.9" />
<line x1="641.61" y1="141.8" x2="641.61" y2="143.4" stroke="#1a1a1a" stroke-width="0.9" />
<line x1="649.73" y1="141.8" x2="649.73" y2="143.4" stroke="#1a1a1a" stroke-width="0.9" />
<line x1="656.75" y1="141.8" x2="656.75" y2="143.4" stroke="#1a1a1a" stroke-width="0.9" />
<line x1="662.95" y1="141.8" x2="662.95" y2="143.4" stroke="#1a1a1a" stroke-width="0.9" />
<line x1="547.3" y1="141.8" x2="547.3" y2="144.8" stroke="#1a1a1a" stroke-width="1" />
<line x1="668.5" y1="141.8" x2="668.5" y2="144.8" stroke="#1a1a1a" stroke-width="1" />
<text x="493.8" y="17.4" font-size="8" font-weight="bold" fill="#000" stroke="#000" stroke-width="0.28" textLength="13" lengthAdjust="spacingAndGlyphs" >10<tspan font-size="5.5" dy="-3.5">3</tspan></text>
<text x="495" y="78.3" font-size="8" font-weight="bold" fill="#000" stroke="#000" stroke-width="0.28" textLength="13" lengthAdjust="spacingAndGlyphs" >10<tspan font-size="5.5" dy="-3.5">2</tspan></text>
<text x="494.3" y="139.6" font-size="8" font-weight="bold" fill="#000" stroke="#000" stroke-width="0.28" textLength="13" lengthAdjust="spacingAndGlyphs" >10<tspan font-size="5.5" dy="-3.5">1</tspan></text>
<text x="541.8" y="155" font-size="8" font-weight="bold" fill="#000" stroke="#000" stroke-width="0.28" textLength="13" lengthAdjust="spacingAndGlyphs" >10<tspan font-size="5.5" dy="-3.5">2</tspan></text>
<text x="663.1" y="155" font-size="8" font-weight="bold" fill="#000" stroke="#000" stroke-width="0.28" textLength="13" lengthAdjust="spacingAndGlyphs" >10<tspan font-size="5.5" dy="-3.5">3</tspan></text>
<text x="485" y="127.9" font-size="9.6" font-weight="bold" fill="#000" stroke="#000" stroke-width="0.28" textLength="104.6" lengthAdjust="spacingAndGlyphs" transform="rotate(-90 485 127.9)" >Threshold voltage  (V<tspan font-size="6" dy="2">ac</tspan><tspan dy="-2">)</tspan></text>
<text x="567.7" y="169.2" font-size="9.2" font-weight="bold" fill="#000" stroke="#000" stroke-width="0.28" textLength="68.1" lengthAdjust="spacingAndGlyphs" >Thickness (μm)</text>
<circle cx="528.6" cy="118.9" r="2.6" fill="#3f95da"/>
<circle cx="528.6" cy="118.9" r="2.6" fill="url(#ball)"/>
<circle cx="528.6" cy="122.1" r="2.6" fill="#6f74d0"/>
<circle cx="528.6" cy="122.1" r="2.6" fill="url(#ball)"/>
<circle cx="528.6" cy="129.1" r="2.6" fill="#3cc27e"/>
<circle cx="528.6" cy="129.1" r="2.6" fill="url(#ball)"/>
<circle cx="583.9" cy="95.6" r="2.6" fill="#3f95da"/>
<circle cx="583.9" cy="95.6" r="2.6" fill="url(#ball)"/>
<circle cx="583.9" cy="102.1" r="2.6" fill="#6f74d0"/>
<circle cx="583.9" cy="102.1" r="2.6" fill="url(#ball)"/>
<circle cx="583.9" cy="109.7" r="2.6" fill="#3cc27e"/>
<circle cx="583.9" cy="109.7" r="2.6" fill="url(#ball)"/>
<circle cx="632.1" cy="85.5" r="2.6" fill="#3cc27e"/>
<circle cx="632.1" cy="85.5" r="2.6" fill="url(#ball)"/>
<circle cx="632.1" cy="77.4" r="2.6" fill="#3f95da"/>
<circle cx="632.1" cy="77.4" r="2.6" fill="url(#ball)"/>
<circle cx="632.1" cy="82.9" r="2.6" fill="#6f74d0"/>
<circle cx="632.1" cy="82.9" r="2.6" fill="url(#ball)"/>
<circle cx="656.9" cy="62.1" r="2.6" fill="#3f95da"/>
<circle cx="656.9" cy="62.1" r="2.6" fill="url(#ball)"/>
<circle cx="656.9" cy="69.1" r="2.6" fill="#6f74d0"/>
<circle cx="656.9" cy="69.1" r="2.6" fill="url(#ball)"/>
<circle cx="656.9" cy="78.5" r="2.6" fill="#3cc27e"/>
<circle cx="656.9" cy="78.5" r="2.6" fill="url(#ball)"/>
<circle cx="528.3" cy="82.9" r="2.3" fill="#fff" stroke="#3f95da" stroke-width="0.9"/>
<line x1="540.4" y1="66.5" x2="533.6" y2="78.6" stroke="#3f95da" stroke-width="1.1" />
<polygon points="532.3,80.8 531.6,75.8 536.4,77.7" fill="#3f95da"/>
<text x="521.1" y="63.2" font-size="8.4" font-weight="bold" fill="#000" stroke="#000" stroke-width="0.28" textLength="46.6" lengthAdjust="spacingAndGlyphs" >PDMS 1 kHz</text>
<text x="591.2" y="23.8" font-size="8.4" font-weight="bold" fill="#000" stroke="#000" stroke-width="0.28" textLength="32.8" lengthAdjust="spacingAndGlyphs" >APELSD</text>
<circle cx="594" cy="35.8" r="2.3" fill="#3f95da"/>
<circle cx="594" cy="35.8" r="2.3" fill="url(#ball)"/>
<circle cx="594" cy="46.3" r="2.3" fill="#6f74d0"/>
<circle cx="594" cy="46.3" r="2.3" fill="url(#ball)"/>
<circle cx="594" cy="57.7" r="2.3" fill="#3cc27e"/>
<circle cx="594" cy="57.7" r="2.3" fill="url(#ball)"/>
<text x="600" y="38.2" font-size="8.4" font-weight="bold" fill="#000" stroke="#000" stroke-width="0.28" textLength="21.2" lengthAdjust="spacingAndGlyphs" >1 kHz</text>
<text x="600" y="48.8" font-size="8.4" font-weight="bold" fill="#000" stroke="#000" stroke-width="0.28" textLength="26.2" lengthAdjust="spacingAndGlyphs" >500 Hz</text>
<text x="600" y="60.2" font-size="8.4" font-weight="bold" fill="#000" stroke="#000" stroke-width="0.28" textLength="21.5" lengthAdjust="spacingAndGlyphs" >50 Hz</text>
<text x="1.2" y="195.3" font-size="10.2" font-weight="bold" fill="#000" stroke="#000" stroke-width="0.28" >d</text>
<path d="M47.53,323.65 C48.83,323.03 51.44,321.46 55.35,319.94 C59.26,318.42 65.78,316.09 71,314.53 C76.22,312.98 81.43,311.79 86.65,310.61 C91.87,309.43 97.08,308.37 102.3,307.43 C107.52,306.49 112.73,305.7 117.95,304.99 C123.17,304.29 128.38,303.72 133.6,303.19 C138.82,302.66 144.03,302.18 149.25,301.81 C154.47,301.44 159.68,301.23 164.9,300.96 C170.12,300.7 175.33,300.43 180.55,300.22 C185.77,300.01 193.59,299.78 196.2,299.69" fill="none" stroke="#3cc27e" stroke-width="1.3"/>
<line x1="47.53" y1="322.8" x2="47.53" y2="324.5" stroke="#3cc27e" stroke-width="0.7" />
<line x1="45.63" y1="322.8" x2="49.43" y2="322.8" stroke="#3cc27e" stroke-width="0.7" />
<line x1="45.63" y1="324.5" x2="49.43" y2="324.5" stroke="#3cc27e" stroke-width="0.7" />
<rect x="46.33" y="322.45" width="2.4" height="2.4" fill="#3cc27e" stroke="#3cc27e" stroke-width="0.6"/>
<polygon points="46.03,321.94 49.03,321.94 47.53,324.49" fill="none" stroke="#3cc27e" stroke-width="0.6"/>
<circle cx="47.53" cy="325" r="1.4" fill="none" stroke="#3cc27e" stroke-width="0.6"/>
<line x1="55.35" y1="319.09" x2="55.35" y2="320.79" stroke="#3cc27e" stroke-width="0.7" />
<line x1="53.45" y1="319.09" x2="57.25" y2="319.09" stroke="#3cc27e" stroke-width="0.7" />
<line x1="53.45" y1="320.79" x2="57.25" y2="320.79" stroke="#3cc27e" stroke-width="0.7" />
<rect x="54.15" y="318.74" width="2.4" height="2.4" fill="#3cc27e" stroke="#3cc27e" stroke-width="0.6"/>
<polygon points="53.85,318.23 56.85,318.23 55.35,320.78" fill="none" stroke="#3cc27e" stroke-width="0.6"/>
<circle cx="55.35" cy="321.29" r="1.4" fill="none" stroke="#3cc27e" stroke-width="0.6"/>
<line x1="71" y1="313.68" x2="71" y2="315.38" stroke="#3cc27e" stroke-width="0.7" />
<line x1="69.1" y1="313.68" x2="72.9" y2="313.68" stroke="#3cc27e" stroke-width="0.7" />
<line x1="69.1" y1="315.38" x2="72.9" y2="315.38" stroke="#3cc27e" stroke-width="0.7" />
<rect x="69.8" y="313.33" width="2.4" height="2.4" fill="#3cc27e" stroke="#3cc27e" stroke-width="0.6"/>
<polygon points="69.5,312.82 72.5,312.82 71,315.37" fill="none" stroke="#3cc27e" stroke-width="0.6"/>
<circle cx="71" cy="315.89" r="1.4" fill="none" stroke="#3cc27e" stroke-width="0.6"/>
<line x1="86.65" y1="309.74" x2="86.65" y2="311.48" stroke="#3cc27e" stroke-width="0.7" />
<line x1="84.75" y1="309.74" x2="88.55" y2="309.74" stroke="#3cc27e" stroke-width="0.7" />
<line x1="84.75" y1="311.48" x2="88.55" y2="311.48" stroke="#3cc27e" stroke-width="0.7" />
<rect x="85.45" y="309.41" width="2.4" height="2.4" fill="#3cc27e" stroke="#3cc27e" stroke-width="0.6"/>
<polygon points="85.15,308.89 88.15,308.89 86.65,311.44" fill="none" stroke="#3cc27e" stroke-width="0.6"/>
<circle cx="86.65" cy="312.01" r="1.4" fill="none" stroke="#3cc27e" stroke-width="0.6"/>
<line x1="102.3" y1="306.4" x2="102.3" y2="308.46" stroke="#3cc27e" stroke-width="0.7" />
<line x1="100.4" y1="306.4" x2="104.2" y2="306.4" stroke="#3cc27e" stroke-width="0.7" />
<line x1="100.4" y1="308.46" x2="104.2" y2="308.46" stroke="#3cc27e" stroke-width="0.7" />
<rect x="101.1" y="306.23" width="2.4" height="2.4" fill="#3cc27e" stroke="#3cc27e" stroke-width="0.6"/>
<polygon points="100.8,305.61 103.8,305.61 102.3,308.16" fill="none" stroke="#3cc27e" stroke-width="0.6"/>
<circle cx="102.3" cy="309.08" r="1.4" fill="none" stroke="#3cc27e" stroke-width="0.6"/>
<line x1="117.95" y1="303.84" x2="117.95" y2="306.15" stroke="#3cc27e" stroke-width="0.7" />
<line x1="116.05" y1="303.84" x2="119.85" y2="303.84" stroke="#3cc27e" stroke-width="0.7" />
<line x1="116.05" y1="306.15" x2="119.85" y2="306.15" stroke="#3cc27e" stroke-width="0.7" />
<rect x="116.75" y="303.79" width="2.4" height="2.4" fill="#3cc27e" stroke="#3cc27e" stroke-width="0.6"/>
<polygon points="116.45,303.1 119.45,303.1 117.95,305.65" fill="none" stroke="#3cc27e" stroke-width="0.6"/>
<circle cx="117.95" cy="306.84" r="1.4" fill="none" stroke="#3cc27e" stroke-width="0.6"/>
<line x1="133.6" y1="301.94" x2="133.6" y2="304.44" stroke="#3cc27e" stroke-width="0.7" />
<line x1="131.7" y1="301.94" x2="135.5" y2="301.94" stroke="#3cc27e" stroke-width="0.7" />
<line x1="131.7" y1="304.44" x2="135.5" y2="304.44" stroke="#3cc27e" stroke-width="0.7" />
<rect x="132.4" y="301.99" width="2.4" height="2.4" fill="#3cc27e" stroke="#3cc27e" stroke-width="0.6"/>
<polygon points="132.1,301.24 135.1,301.24 133.6,303.79" fill="none" stroke="#3cc27e" stroke-width="0.6"/>
<circle cx="133.6" cy="305.18" r="1.4" fill="none" stroke="#3cc27e" stroke-width="0.6"/>
<line x1="149.25" y1="300.5" x2="149.25" y2="303.13" stroke="#3cc27e" stroke-width="0.7" />
<line x1="147.35" y1="300.5" x2="151.15" y2="300.5" stroke="#3cc27e" stroke-width="0.7" />
<line x1="147.35" y1="303.13" x2="151.15" y2="303.13" stroke="#3cc27e" stroke-width="0.7" />
<rect x="148.05" y="300.61" width="2.4" height="2.4" fill="#3cc27e" stroke="#3cc27e" stroke-width="0.6"/>
<polygon points="147.75,299.82 150.75,299.82 149.25,302.37" fill="none" stroke="#3cc27e" stroke-width="0.6"/>
<circle cx="149.25" cy="303.92" r="1.4" fill="none" stroke="#3cc27e" stroke-width="0.6"/>
<line x1="164.9" y1="299.61" x2="164.9" y2="302.32" stroke="#3cc27e" stroke-width="0.7" />
<line x1="163" y1="299.61" x2="166.8" y2="299.61" stroke="#3cc27e" stroke-width="0.7" />
<line x1="163" y1="302.32" x2="166.8" y2="302.32" stroke="#3cc27e" stroke-width="0.7" />
<rect x="163.7" y="299.76" width="2.4" height="2.4" fill="#3cc27e" stroke="#3cc27e" stroke-width="0.6"/>
<polygon points="163.4,298.95 166.4,298.95 164.9,301.5" fill="none" stroke="#3cc27e" stroke-width="0.6"/>
<circle cx="164.9" cy="303.13" r="1.4" fill="none" stroke="#3cc27e" stroke-width="0.6"/>
<line x1="180.55" y1="298.83" x2="180.55" y2="301.62" stroke="#3cc27e" stroke-width="0.7" />
<line x1="178.65" y1="298.83" x2="182.45" y2="298.83" stroke="#3cc27e" stroke-width="0.7" />
<line x1="178.65" y1="301.62" x2="182.45" y2="301.62" stroke="#3cc27e" stroke-width="0.7" />
<rect x="179.35" y="299.02" width="2.4" height="2.4" fill="#3cc27e" stroke="#3cc27e" stroke-width="0.6"/>
<polygon points="179.05,298.19 182.05,298.19 180.55,300.74" fill="none" stroke="#3cc27e" stroke-width="0.6"/>
<circle cx="180.55" cy="302.45" r="1.4" fill="none" stroke="#3cc27e" stroke-width="0.6"/>
<line x1="196.2" y1="298.27" x2="196.2" y2="301.11" stroke="#3cc27e" stroke-width="0.7" />
<line x1="194.3" y1="298.27" x2="198.1" y2="298.27" stroke="#3cc27e" stroke-width="0.7" />
<line x1="194.3" y1="301.11" x2="198.1" y2="301.11" stroke="#3cc27e" stroke-width="0.7" />
<rect x="195" y="298.49" width="2.4" height="2.4" fill="#3cc27e" stroke="#3cc27e" stroke-width="0.6"/>
<polygon points="194.7,297.64 197.7,297.64 196.2,300.19" fill="none" stroke="#3cc27e" stroke-width="0.6"/>
<circle cx="196.2" cy="301.96" r="1.4" fill="none" stroke="#3cc27e" stroke-width="0.6"/>
<path d="M47.53,320.89 C48.83,319.44 51.44,315.2 55.35,312.2 C59.26,309.2 65.78,305.56 71,302.87 C76.22,300.19 81.43,297.8 86.65,296.09 C91.87,294.37 97.08,293.67 102.3,292.59 C107.52,291.51 112.73,290.42 117.95,289.62 C123.17,288.83 128.38,288.39 133.6,287.82 C138.82,287.25 144.03,286.67 149.25,286.23 C154.47,285.79 159.68,285.51 164.9,285.17 C170.12,284.83 175.33,284.52 180.55,284.22 C185.77,283.92 193.59,283.51 196.2,283.37" fill="none" stroke="#6f74d0" stroke-width="1.3"/>
<line x1="47.53" y1="320.04" x2="47.53" y2="321.74" stroke="#6f74d0" stroke-width="0.7" />
<line x1="45.63" y1="320.04" x2="49.43" y2="320.04" stroke="#6f74d0" stroke-width="0.7" />
<line x1="45.63" y1="321.74" x2="49.43" y2="321.74" stroke="#6f74d0" stroke-width="0.7" />
<rect x="46.33" y="319.69" width="2.4" height="2.4" fill="#6f74d0" stroke="#6f74d0" stroke-width="0.6"/>
<polygon points="46.03,319.18 49.03,319.18 47.53,321.73" fill="none" stroke="#6f74d0" stroke-width="0.6"/>
<circle cx="47.53" cy="322.25" r="1.4" fill="none" stroke="#6f74d0" stroke-width="0.6"/>
<line x1="55.35" y1="311.35" x2="55.35" y2="313.05" stroke="#6f74d0" stroke-width="0.7" />
<line x1="53.45" y1="311.35" x2="57.25" y2="311.35" stroke="#6f74d0" stroke-width="0.7" />
<line x1="53.45" y1="313.05" x2="57.25" y2="313.05" stroke="#6f74d0" stroke-width="0.7" />
<rect x="54.15" y="311" width="2.4" height="2.4" fill="#6f74d0" stroke="#6f74d0" stroke-width="0.6"/>
<polygon points="53.85,310.49 56.85,310.49 55.35,313.04" fill="none" stroke="#6f74d0" stroke-width="0.6"/>
<circle cx="55.35" cy="313.56" r="1.4" fill="none" stroke="#6f74d0" stroke-width="0.6"/>
<line x1="71" y1="301.61" x2="71" y2="304.13" stroke="#6f74d0" stroke-width="0.7" />
<line x1="69.1" y1="301.61" x2="72.9" y2="301.61" stroke="#6f74d0" stroke-width="0.7" />
<line x1="69.1" y1="304.13" x2="72.9" y2="304.13" stroke="#6f74d0" stroke-width="0.7" />
<rect x="69.8" y="301.67" width="2.4" height="2.4" fill="#6f74d0" stroke="#6f74d0" stroke-width="0.6"/>
<polygon points="69.5,300.92 72.5,300.92 71,303.47" fill="none" stroke="#6f74d0" stroke-width="0.6"/>
<circle cx="71" cy="304.89" r="1.4" fill="none" stroke="#6f74d0" stroke-width="0.6"/>
<line x1="86.65" y1="294.49" x2="86.65" y2="297.69" stroke="#6f74d0" stroke-width="0.7" />
<line x1="84.75" y1="294.49" x2="88.55" y2="294.49" stroke="#6f74d0" stroke-width="0.7" />
<line x1="84.75" y1="297.69" x2="88.55" y2="297.69" stroke="#6f74d0" stroke-width="0.7" />
<rect x="85.45" y="294.89" width="2.4" height="2.4" fill="#6f74d0" stroke="#6f74d0" stroke-width="0.6"/>
<polygon points="85.15,293.93 88.15,293.93 86.65,296.48" fill="none" stroke="#6f74d0" stroke-width="0.6"/>
<circle cx="86.65" cy="298.65" r="1.4" fill="none" stroke="#6f74d0" stroke-width="0.6"/>
<line x1="102.3" y1="290.81" x2="102.3" y2="294.37" stroke="#6f74d0" stroke-width="0.7" />
<line x1="100.4" y1="290.81" x2="104.2" y2="290.81" stroke="#6f74d0" stroke-width="0.7" />
<line x1="100.4" y1="294.37" x2="104.2" y2="294.37" stroke="#6f74d0" stroke-width="0.7" />
<rect x="101.1" y="291.39" width="2.4" height="2.4" fill="#6f74d0" stroke="#6f74d0" stroke-width="0.6"/>
<polygon points="100.8,290.32 103.8,290.32 102.3,292.87" fill="none" stroke="#6f74d0" stroke-width="0.6"/>
<circle cx="102.3" cy="295.43" r="1.4" fill="none" stroke="#6f74d0" stroke-width="0.6"/>
<line x1="117.95" y1="287.7" x2="117.95" y2="291.55" stroke="#6f74d0" stroke-width="0.7" />
<line x1="116.05" y1="287.7" x2="119.85" y2="287.7" stroke="#6f74d0" stroke-width="0.7" />
<line x1="116.05" y1="291.55" x2="119.85" y2="291.55" stroke="#6f74d0" stroke-width="0.7" />
<rect x="116.75" y="288.42" width="2.4" height="2.4" fill="#6f74d0" stroke="#6f74d0" stroke-width="0.6"/>
<polygon points="116.45,287.27 119.45,287.27 117.95,289.82" fill="none" stroke="#6f74d0" stroke-width="0.6"/>
<circle cx="117.95" cy="292.7" r="1.4" fill="none" stroke="#6f74d0" stroke-width="0.6"/>
<line x1="133.6" y1="285.81" x2="133.6" y2="289.83" stroke="#6f74d0" stroke-width="0.7" />
<line x1="131.7" y1="285.81" x2="135.5" y2="285.81" stroke="#6f74d0" stroke-width="0.7" />
<line x1="131.7" y1="289.83" x2="135.5" y2="289.83" stroke="#6f74d0" stroke-width="0.7" />
<rect x="132.4" y="286.62" width="2.4" height="2.4" fill="#6f74d0" stroke="#6f74d0" stroke-width="0.6"/>
<polygon points="132.1,285.41 135.1,285.41 133.6,287.96" fill="none" stroke="#6f74d0" stroke-width="0.6"/>
<circle cx="133.6" cy="291.04" r="1.4" fill="none" stroke="#6f74d0" stroke-width="0.6"/>
<line x1="149.25" y1="284.14" x2="149.25" y2="288.32" stroke="#6f74d0" stroke-width="0.7" />
<line x1="147.35" y1="284.14" x2="151.15" y2="284.14" stroke="#6f74d0" stroke-width="0.7" />
<line x1="147.35" y1="288.32" x2="151.15" y2="288.32" stroke="#6f74d0" stroke-width="0.7" />
<rect x="148.05" y="285.03" width="2.4" height="2.4" fill="#6f74d0" stroke="#6f74d0" stroke-width="0.6"/>
<polygon points="147.75,283.77 150.75,283.77 149.25,286.32" fill="none" stroke="#6f74d0" stroke-width="0.6"/>
<circle cx="149.25" cy="289.58" r="1.4" fill="none" stroke="#6f74d0" stroke-width="0.6"/>
<line x1="164.9" y1="283.02" x2="164.9" y2="287.32" stroke="#6f74d0" stroke-width="0.7" />
<line x1="163" y1="283.02" x2="166.8" y2="283.02" stroke="#6f74d0" stroke-width="0.7" />
<line x1="163" y1="287.32" x2="166.8" y2="287.32" stroke="#6f74d0" stroke-width="0.7" />
<rect x="163.7" y="283.97" width="2.4" height="2.4" fill="#6f74d0" stroke="#6f74d0" stroke-width="0.6"/>
<polygon points="163.4,282.68 166.4,282.68 164.9,285.23" fill="none" stroke="#6f74d0" stroke-width="0.6"/>
<circle cx="164.9" cy="288.6" r="1.4" fill="none" stroke="#6f74d0" stroke-width="0.6"/>
<line x1="180.55" y1="282.02" x2="180.55" y2="286.41" stroke="#6f74d0" stroke-width="0.7" />
<line x1="178.65" y1="282.02" x2="182.45" y2="282.02" stroke="#6f74d0" stroke-width="0.7" />
<line x1="178.65" y1="286.41" x2="182.45" y2="286.41" stroke="#6f74d0" stroke-width="0.7" />
<rect x="179.35" y="283.02" width="2.4" height="2.4" fill="#6f74d0" stroke="#6f74d0" stroke-width="0.6"/>
<polygon points="179.05,281.7 182.05,281.7 180.55,284.25" fill="none" stroke="#6f74d0" stroke-width="0.6"/>
<circle cx="180.55" cy="287.73" r="1.4" fill="none" stroke="#6f74d0" stroke-width="0.6"/>
<line x1="196.2" y1="281.13" x2="196.2" y2="285.6" stroke="#6f74d0" stroke-width="0.7" />
<line x1="194.3" y1="281.13" x2="198.1" y2="281.13" stroke="#6f74d0" stroke-width="0.7" />
<line x1="194.3" y1="285.6" x2="198.1" y2="285.6" stroke="#6f74d0" stroke-width="0.7" />
<rect x="195" y="282.17" width="2.4" height="2.4" fill="#6f74d0" stroke="#6f74d0" stroke-width="0.6"/>
<polygon points="194.7,280.83 197.7,280.83 196.2,283.38" fill="none" stroke="#6f74d0" stroke-width="0.6"/>
<circle cx="196.2" cy="286.95" r="1.4" fill="none" stroke="#6f74d0" stroke-width="0.6"/>
<path d="M47.53,316.97 C48.83,315.36 51.44,310.68 55.35,307.32 C59.26,303.97 65.78,299.78 71,296.83 C76.22,293.88 81.43,291.71 86.65,289.62 C91.87,287.54 97.08,285.79 102.3,284.32 C107.52,282.86 112.73,281.92 117.95,280.82 C123.17,279.73 128.38,278.7 133.6,277.75 C138.82,276.8 144.03,275.9 149.25,275.1 C154.47,274.31 159.68,273.65 164.9,272.98 C170.12,272.31 175.33,271.67 180.55,271.07 C185.77,270.47 193.59,269.66 196.2,269.38" fill="none" stroke="#3f95da" stroke-width="1.3"/>
<line x1="47.53" y1="316.12" x2="47.53" y2="317.82" stroke="#3f95da" stroke-width="0.7" />
<line x1="45.63" y1="316.12" x2="49.43" y2="316.12" stroke="#3f95da" stroke-width="0.7" />
<line x1="45.63" y1="317.82" x2="49.43" y2="317.82" stroke="#3f95da" stroke-width="0.7" />
<rect x="46.33" y="315.77" width="2.4" height="2.4" fill="#3f95da" stroke="#3f95da" stroke-width="0.6"/>
<polygon points="46.03,315.26 49.03,315.26 47.53,317.81" fill="none" stroke="#3f95da" stroke-width="0.6"/>
<circle cx="47.53" cy="318.33" r="1.4" fill="none" stroke="#3f95da" stroke-width="0.6"/>
<line x1="55.35" y1="306.29" x2="55.35" y2="308.36" stroke="#3f95da" stroke-width="0.7" />
<line x1="53.45" y1="306.29" x2="57.25" y2="306.29" stroke="#3f95da" stroke-width="0.7" />
<line x1="53.45" y1="308.36" x2="57.25" y2="308.36" stroke="#3f95da" stroke-width="0.7" />
<rect x="54.15" y="306.12" width="2.4" height="2.4" fill="#3f95da" stroke="#3f95da" stroke-width="0.6"/>
<polygon points="53.85,305.5 56.85,305.5 55.35,308.05" fill="none" stroke="#3f95da" stroke-width="0.6"/>
<circle cx="55.35" cy="308.99" r="1.4" fill="none" stroke="#3f95da" stroke-width="0.6"/>
<line x1="71" y1="295.27" x2="71" y2="298.39" stroke="#3f95da" stroke-width="0.7" />
<line x1="69.1" y1="295.27" x2="72.9" y2="295.27" stroke="#3f95da" stroke-width="0.7" />
<line x1="69.1" y1="298.39" x2="72.9" y2="298.39" stroke="#3f95da" stroke-width="0.7" />
<rect x="69.8" y="295.63" width="2.4" height="2.4" fill="#3f95da" stroke="#3f95da" stroke-width="0.6"/>
<polygon points="69.5,294.69 72.5,294.69 71,297.24" fill="none" stroke="#3f95da" stroke-width="0.6"/>
<circle cx="71" cy="299.33" r="1.4" fill="none" stroke="#3f95da" stroke-width="0.6"/>
<line x1="86.65" y1="287.7" x2="86.65" y2="291.55" stroke="#3f95da" stroke-width="0.7" />
<line x1="84.75" y1="287.7" x2="88.55" y2="287.7" stroke="#3f95da" stroke-width="0.7" />
<line x1="84.75" y1="291.55" x2="88.55" y2="291.55" stroke="#3f95da" stroke-width="0.7" />
<rect x="85.45" y="288.42" width="2.4" height="2.4" fill="#3f95da" stroke="#3f95da" stroke-width="0.6"/>
<polygon points="85.15,287.27 88.15,287.27 86.65,289.82" fill="none" stroke="#3f95da" stroke-width="0.6"/>
<circle cx="86.65" cy="292.7" r="1.4" fill="none" stroke="#3f95da" stroke-width="0.6"/>
<line x1="102.3" y1="282.13" x2="102.3" y2="286.51" stroke="#3f95da" stroke-width="0.7" />
<line x1="100.4" y1="282.13" x2="104.2" y2="282.13" stroke="#3f95da" stroke-width="0.7" />
<line x1="100.4" y1="286.51" x2="104.2" y2="286.51" stroke="#3f95da" stroke-width="0.7" />
<rect x="101.1" y="283.12" width="2.4" height="2.4" fill="#3f95da" stroke="#3f95da" stroke-width="0.6"/>
<polygon points="100.8,281.81 103.8,281.81 102.3,284.36" fill="none" stroke="#3f95da" stroke-width="0.6"/>
<circle cx="102.3" cy="287.82" r="1.4" fill="none" stroke="#3f95da" stroke-width="0.6"/>
<line x1="117.95" y1="278.46" x2="117.95" y2="283.19" stroke="#3f95da" stroke-width="0.7" />
<line x1="116.05" y1="278.46" x2="119.85" y2="278.46" stroke="#3f95da" stroke-width="0.7" />
<line x1="116.05" y1="283.19" x2="119.85" y2="283.19" stroke="#3f95da" stroke-width="0.7" />
<rect x="116.75" y="279.62" width="2.4" height="2.4" fill="#3f95da" stroke="#3f95da" stroke-width="0.6"/>
<polygon points="116.45,278.21 119.45,278.21 117.95,280.76" fill="none" stroke="#3f95da" stroke-width="0.6"/>
<circle cx="117.95" cy="284.61" r="1.4" fill="none" stroke="#3f95da" stroke-width="0.6"/>
<line x1="133.6" y1="275.23" x2="133.6" y2="280.27" stroke="#3f95da" stroke-width="0.7" />
<line x1="131.7" y1="275.23" x2="135.5" y2="275.23" stroke="#3f95da" stroke-width="0.7" />
<line x1="131.7" y1="280.27" x2="135.5" y2="280.27" stroke="#3f95da" stroke-width="0.7" />
<rect x="132.4" y="276.55" width="2.4" height="2.4" fill="#3f95da" stroke="#3f95da" stroke-width="0.6"/>
<polygon points="132.1,275.04 135.1,275.04 133.6,277.59" fill="none" stroke="#3f95da" stroke-width="0.6"/>
<circle cx="133.6" cy="281.78" r="1.4" fill="none" stroke="#3f95da" stroke-width="0.6"/>
<line x1="149.25" y1="272.45" x2="149.25" y2="277.75" stroke="#3f95da" stroke-width="0.7" />
<line x1="147.35" y1="272.45" x2="151.15" y2="272.45" stroke="#3f95da" stroke-width="0.7" />
<line x1="147.35" y1="277.75" x2="151.15" y2="277.75" stroke="#3f95da" stroke-width="0.7" />
<rect x="148.05" y="273.9" width="2.4" height="2.4" fill="#3f95da" stroke="#3f95da" stroke-width="0.6"/>
<polygon points="147.75,272.31 150.75,272.31 149.25,274.86" fill="none" stroke="#3f95da" stroke-width="0.6"/>
<circle cx="149.25" cy="279.34" r="1.4" fill="none" stroke="#3f95da" stroke-width="0.6"/>
<line x1="164.9" y1="270.22" x2="164.9" y2="275.74" stroke="#3f95da" stroke-width="0.7" />
<line x1="163" y1="270.22" x2="166.8" y2="270.22" stroke="#3f95da" stroke-width="0.7" />
<line x1="163" y1="275.74" x2="166.8" y2="275.74" stroke="#3f95da" stroke-width="0.7" />
<rect x="163.7" y="271.78" width="2.4" height="2.4" fill="#3f95da" stroke="#3f95da" stroke-width="0.6"/>
<polygon points="163.4,270.13 166.4,270.13 164.9,272.68" fill="none" stroke="#3f95da" stroke-width="0.6"/>
<circle cx="164.9" cy="277.39" r="1.4" fill="none" stroke="#3f95da" stroke-width="0.6"/>
<line x1="180.55" y1="268.22" x2="180.55" y2="273.92" stroke="#3f95da" stroke-width="0.7" />
<line x1="178.65" y1="268.22" x2="182.45" y2="268.22" stroke="#3f95da" stroke-width="0.7" />
<line x1="178.65" y1="273.92" x2="182.45" y2="273.92" stroke="#3f95da" stroke-width="0.7" />
<rect x="179.35" y="269.87" width="2.4" height="2.4" fill="#3f95da" stroke="#3f95da" stroke-width="0.6"/>
<polygon points="179.05,268.16 182.05,268.16 180.55,270.71" fill="none" stroke="#3f95da" stroke-width="0.6"/>
<circle cx="180.55" cy="275.63" r="1.4" fill="none" stroke="#3f95da" stroke-width="0.6"/>
<line x1="196.2" y1="266.44" x2="196.2" y2="272.31" stroke="#3f95da" stroke-width="0.7" />
<line x1="194.3" y1="266.44" x2="198.1" y2="266.44" stroke="#3f95da" stroke-width="0.7" />
<line x1="194.3" y1="272.31" x2="198.1" y2="272.31" stroke="#3f95da" stroke-width="0.7" />
<rect x="195" y="268.18" width="2.4" height="2.4" fill="#3f95da" stroke="#3f95da" stroke-width="0.6"/>
<polygon points="194.7,266.41 197.7,266.41 196.2,268.96" fill="none" stroke="#3f95da" stroke-width="0.6"/>
<circle cx="196.2" cy="274.07" r="1.4" fill="none" stroke="#3f95da" stroke-width="0.6"/>
<rect x="39.7" y="191.6" width="172.6" height="138.8" fill="none" stroke="#1a1a1a" stroke-width="1.1" />
<line x1="36.7" y1="328.1" x2="39.7" y2="328.1" stroke="#1a1a1a" stroke-width="1" />
<line x1="36.7" y1="285.7" x2="39.7" y2="285.7" stroke="#1a1a1a" stroke-width="1" />
<line x1="36.7" y1="243.3" x2="39.7" y2="243.3" stroke="#1a1a1a" stroke-width="1" />
<line x1="36.7" y1="200.9" x2="39.7" y2="200.9" stroke="#1a1a1a" stroke-width="1" />
<line x1="38.1" y1="306.9" x2="39.7" y2="306.9" stroke="#1a1a1a" stroke-width="1" />
<line x1="38.1" y1="264.5" x2="39.7" y2="264.5" stroke="#1a1a1a" stroke-width="1" />
<line x1="38.1" y1="222.1" x2="39.7" y2="222.1" stroke="#1a1a1a" stroke-width="1" />
<text x="34.8" y="330.7" font-size="8.8" font-weight="bold" fill="#000" stroke="#000" stroke-width="0.28" text-anchor="end" >0</text>
<text x="34.8" y="288.3" font-size="8.8" font-weight="bold" fill="#000" stroke="#000" stroke-width="0.28" text-anchor="end" >400</text>
<text x="34.8" y="245.9" font-size="8.8" font-weight="bold" fill="#000" stroke="#000" stroke-width="0.28" text-anchor="end" >800</text>
<text x="34.8" y="203.5" font-size="8.8" font-weight="bold" fill="#000" stroke="#000" stroke-width="0.28" text-anchor="end" >1,200</text>
<line x1="39.7" y1="330.4" x2="39.7" y2="333.4" stroke="#1a1a1a" stroke-width="1" />
<line x1="71" y1="330.4" x2="71" y2="333.4" stroke="#1a1a1a" stroke-width="1" />
<line x1="102.3" y1="330.4" x2="102.3" y2="333.4" stroke="#1a1a1a" stroke-width="1" />
<line x1="133.6" y1="330.4" x2="133.6" y2="333.4" stroke="#1a1a1a" stroke-width="1" />
<line x1="164.9" y1="330.4" x2="164.9" y2="333.4" stroke="#1a1a1a" stroke-width="1" />
<line x1="196.2" y1="330.4" x2="196.2" y2="333.4" stroke="#1a1a1a" stroke-width="1" />
<line x1="55.35" y1="330.4" x2="55.35" y2="332" stroke="#1a1a1a" stroke-width="1" />
<line x1="86.65" y1="330.4" x2="86.65" y2="332" stroke="#1a1a1a" stroke-width="1" />
<line x1="117.95" y1="330.4" x2="117.95" y2="332" stroke="#1a1a1a" stroke-width="1" />
<line x1="149.25" y1="330.4" x2="149.25" y2="332" stroke="#1a1a1a" stroke-width="1" />
<line x1="180.55" y1="330.4" x2="180.55" y2="332" stroke="#1a1a1a" stroke-width="1" />
<text x="39.7" y="342.2" font-size="8.8" font-weight="bold" fill="#000" stroke="#000" stroke-width="0.28" text-anchor="middle" >0</text>
<text x="71" y="342.2" font-size="8.8" font-weight="bold" fill="#000" stroke="#000" stroke-width="0.28" text-anchor="middle" >200</text>
<text x="102.3" y="342.2" font-size="8.8" font-weight="bold" fill="#000" stroke="#000" stroke-width="0.28" text-anchor="middle" >400</text>
<text x="133.6" y="342.2" font-size="8.8" font-weight="bold" fill="#000" stroke="#000" stroke-width="0.28" text-anchor="middle" >600</text>
<text x="164.9" y="342.2" font-size="8.8" font-weight="bold" fill="#000" stroke="#000" stroke-width="0.28" text-anchor="middle" >800</text>
<text x="196.2" y="342.2" font-size="8.8" font-weight="bold" fill="#000" stroke="#000" stroke-width="0.28" text-anchor="middle" >1,000</text>
<text x="10.4" y="308" font-size="9.6" font-weight="bold" fill="#000" stroke="#000" stroke-width="0.28" textLength="84.8" lengthAdjust="spacingAndGlyphs" transform="rotate(-90 10.4 308)" >Luminance (cd m<tspan font-size="6" dy="-3.5">-2</tspan><tspan dy="3.5">)</tspan></text>
<text x="95.3" y="357" font-size="9.2" font-weight="bold" fill="#000" stroke="#000" stroke-width="0.28" textLength="67.5" lengthAdjust="spacingAndGlyphs" >Frequency (Hz)</text>
<line x1="49.1" y1="210.5" x2="71" y2="210.5" stroke="#3cc27e" stroke-width="1.3" />
<line x1="49.1" y1="220.9" x2="71" y2="220.9" stroke="#6f74d0" stroke-width="1.3" />
<line x1="49.1" y1="231.6" x2="71" y2="231.6" stroke="#3f95da" stroke-width="1.3" />
<text x="77.1" y="213.1" font-size="8.4" font-weight="bold" fill="#000" stroke="#000" stroke-width="0.28" textLength="33.9" lengthAdjust="spacingAndGlyphs" >30% ZnS</text>
<text x="77.1" y="223.7" font-size="8.4" font-weight="bold" fill="#000" stroke="#000" stroke-width="0.28" textLength="33.9" lengthAdjust="spacingAndGlyphs" >50% ZnS</text>
<text x="77.1" y="234.4" font-size="8.4" font-weight="bold" fill="#000" stroke="#000" stroke-width="0.28" textLength="33.9" lengthAdjust="spacingAndGlyphs" >70% ZnS</text>
<text x="166" y="212.7" font-size="8.4" font-weight="bold" fill="#000" stroke="#000" stroke-width="0.28" textLength="32.5" lengthAdjust="spacingAndGlyphs" >APELSD</text>
<text x="233.1" y="193.8" font-size="11" font-weight="bold" fill="#000" stroke="#000" stroke-width="0.28" >e</text>
<polyline points="293.1,320.5 327.65,317.71 362.2,309.56 396.75,295.82 431.3,274.43" fill="none" stroke="#3ab4ca" stroke-width="1.3" stroke-linejoin="round" />
<line x1="293.1" y1="320" x2="293.1" y2="321" stroke="#3ab4ca" stroke-width="0.7" />
<line x1="291.4" y1="320" x2="294.8" y2="320" stroke="#3ab4ca" stroke-width="0.7" />
<line x1="291.4" y1="321" x2="294.8" y2="321" stroke="#3ab4ca" stroke-width="0.7" />
<polygon points="291.7,319.08 294.5,319.08 293.1,321.46" fill="#3ab4ca" stroke="#3ab4ca" stroke-width="0.6"/>
<polygon points="291.8,319.49 294.4,319.49 293.1,321.7" fill="none" stroke="#3ab4ca" stroke-width="0.6"/>
<polygon points="293.1,319.19 294.2,320.51 293.1,321.83 292,320.51" fill="none" stroke="#3ab4ca" stroke-width="0.6"/>
<line x1="327.65" y1="317.22" x2="327.65" y2="318.21" stroke="#3ab4ca" stroke-width="0.7" />
<line x1="325.95" y1="317.22" x2="329.35" y2="317.22" stroke="#3ab4ca" stroke-width="0.7" />
<line x1="325.95" y1="318.21" x2="329.35" y2="318.21" stroke="#3ab4ca" stroke-width="0.7" />
<polygon points="326.25,316.3 329.05,316.3 327.65,318.68" fill="#3ab4ca" stroke="#3ab4ca" stroke-width="0.6"/>
<polygon points="326.35,317.06 328.95,317.06 327.65,319.27" fill="none" stroke="#3ab4ca" stroke-width="0.6"/>
<polygon points="327.65,316.6 328.75,317.92 327.65,319.24 326.55,317.92" fill="none" stroke="#3ab4ca" stroke-width="0.6"/>
<line x1="362.2" y1="308.78" x2="362.2" y2="310.34" stroke="#3ab4ca" stroke-width="0.7" />
<line x1="360.5" y1="308.78" x2="363.9" y2="308.78" stroke="#3ab4ca" stroke-width="0.7" />
<line x1="360.5" y1="310.34" x2="363.9" y2="310.34" stroke="#3ab4ca" stroke-width="0.7" />
<polygon points="360.8,307.97 363.6,307.97 362.2,310.35" fill="#3ab4ca" stroke="#3ab4ca" stroke-width="0.6"/>
<polygon points="360.9,309.96 363.5,309.96 362.2,312.17" fill="none" stroke="#3ab4ca" stroke-width="0.6"/>
<polygon points="362.2,309.02 363.3,310.34 362.2,311.66 361.1,310.34" fill="none" stroke="#3ab4ca" stroke-width="0.6"/>
<line x1="396.75" y1="294.08" x2="396.75" y2="297.57" stroke="#3ab4ca" stroke-width="0.7" />
<line x1="395.05" y1="294.08" x2="398.45" y2="294.08" stroke="#3ab4ca" stroke-width="0.7" />
<line x1="395.05" y1="297.57" x2="398.45" y2="297.57" stroke="#3ab4ca" stroke-width="0.7" />
<polygon points="395.35,293.66 398.15,293.66 396.75,296.04" fill="#3ab4ca" stroke="#3ab4ca" stroke-width="0.6"/>
<polygon points="395.45,298.02 398.05,298.02 396.75,300.23" fill="none" stroke="#3ab4ca" stroke-width="0.6"/>
<polygon points="396.75,296.25 397.85,297.57 396.75,298.89 395.65,297.57" fill="none" stroke="#3ab4ca" stroke-width="0.6"/>
<line x1="431.3" y1="271.19" x2="431.3" y2="277.67" stroke="#3ab4ca" stroke-width="0.7" />
<line x1="429.6" y1="271.19" x2="433" y2="271.19" stroke="#3ab4ca" stroke-width="0.7" />
<line x1="429.6" y1="277.67" x2="433" y2="277.67" stroke="#3ab4ca" stroke-width="0.7" />
<polygon points="429.9,271.37 432.7,271.37 431.3,273.75" fill="#3ab4ca" stroke="#3ab4ca" stroke-width="0.6"/>
<polygon points="430,279.41 432.6,279.41 431.3,281.62" fill="none" stroke="#3ab4ca" stroke-width="0.6"/>
<polygon points="431.3,276.35 432.4,277.67 431.3,278.99 430.2,277.67" fill="none" stroke="#3ab4ca" stroke-width="0.6"/>
<polyline points="293.1,320.3 327.65,316.72 362.2,306.27 396.75,290.35 431.3,265.78" fill="none" stroke="#3cc27e" stroke-width="1.3" stroke-linejoin="round" />
<line x1="293.1" y1="319.8" x2="293.1" y2="320.8" stroke="#3cc27e" stroke-width="0.7" />
<line x1="291.4" y1="319.8" x2="294.8" y2="319.8" stroke="#3cc27e" stroke-width="0.7" />
<line x1="291.4" y1="320.8" x2="294.8" y2="320.8" stroke="#3cc27e" stroke-width="0.7" />
<polygon points="291.7,318.88 294.5,318.88 293.1,321.26" fill="#3cc27e" stroke="#3cc27e" stroke-width="0.6"/>
<polygon points="291.8,319.31 294.4,319.31 293.1,321.52" fill="none" stroke="#3cc27e" stroke-width="0.6"/>
<polygon points="293.1,319.01 294.2,320.33 293.1,321.65 292,320.33" fill="none" stroke="#3cc27e" stroke-width="0.6"/>
<line x1="327.65" y1="316.22" x2="327.65" y2="317.22" stroke="#3cc27e" stroke-width="0.7" />
<line x1="325.95" y1="316.22" x2="329.35" y2="316.22" stroke="#3cc27e" stroke-width="0.7" />
<line x1="325.95" y1="317.22" x2="329.35" y2="317.22" stroke="#3cc27e" stroke-width="0.7" />
<polygon points="326.25,315.3 329.05,315.3 327.65,317.68" fill="#3cc27e" stroke="#3cc27e" stroke-width="0.6"/>
<polygon points="326.35,316.2 328.95,316.2 327.65,318.41" fill="none" stroke="#3cc27e" stroke-width="0.6"/>
<polygon points="327.65,315.68 328.75,317 327.65,318.32 326.55,317" fill="none" stroke="#3cc27e" stroke-width="0.6"/>
<line x1="362.2" y1="305.26" x2="362.2" y2="307.28" stroke="#3cc27e" stroke-width="0.7" />
<line x1="360.5" y1="305.26" x2="363.9" y2="305.26" stroke="#3cc27e" stroke-width="0.7" />
<line x1="360.5" y1="307.28" x2="363.9" y2="307.28" stroke="#3cc27e" stroke-width="0.7" />
<polygon points="360.8,304.55 363.6,304.55 362.2,306.93" fill="#3cc27e" stroke="#3cc27e" stroke-width="0.6"/>
<polygon points="360.9,307.11 363.5,307.11 362.2,309.32" fill="none" stroke="#3cc27e" stroke-width="0.6"/>
<polygon points="362.2,305.96 363.3,307.28 362.2,308.6 361.1,307.28" fill="none" stroke="#3cc27e" stroke-width="0.6"/>
<line x1="396.75" y1="288.23" x2="396.75" y2="292.48" stroke="#3cc27e" stroke-width="0.7" />
<line x1="395.05" y1="288.23" x2="398.45" y2="288.23" stroke="#3cc27e" stroke-width="0.7" />
<line x1="395.05" y1="292.48" x2="398.45" y2="292.48" stroke="#3cc27e" stroke-width="0.7" />
<polygon points="395.35,287.96 398.15,287.96 396.75,290.34" fill="#3cc27e" stroke="#3cc27e" stroke-width="0.6"/>
<polygon points="395.45,293.26 398.05,293.26 396.75,295.47" fill="none" stroke="#3cc27e" stroke-width="0.6"/>
<polygon points="396.75,291.16 397.85,292.48 396.75,293.8 395.65,292.48" fill="none" stroke="#3cc27e" stroke-width="0.6"/>
<line x1="431.3" y1="261.93" x2="431.3" y2="269.62" stroke="#3cc27e" stroke-width="0.7" />
<line x1="429.6" y1="261.93" x2="433" y2="261.93" stroke="#3cc27e" stroke-width="0.7" />
<line x1="429.6" y1="269.62" x2="433" y2="269.62" stroke="#3cc27e" stroke-width="0.7" />
<polygon points="429.9,262.35 432.7,262.35 431.3,264.73" fill="#3cc27e" stroke="#3cc27e" stroke-width="0.6"/>
<polygon points="430,271.88 432.6,271.88 431.3,274.09" fill="none" stroke="#3cc27e" stroke-width="0.6"/>
<polygon points="431.3,268.3 432.4,269.62 431.3,270.94 430.2,269.62" fill="none" stroke="#3cc27e" stroke-width="0.6"/>
<polyline points="293.1,320.1 327.65,315.53 362.2,301.99 396.75,278.91 431.3,247.57" fill="none" stroke="#6f74d0" stroke-width="1.3" stroke-linejoin="round" />
<line x1="293.1" y1="319.61" x2="293.1" y2="320.6" stroke="#6f74d0" stroke-width="0.7" />
<line x1="291.4" y1="319.61" x2="294.8" y2="319.61" stroke="#6f74d0" stroke-width="0.7" />
<line x1="291.4" y1="320.6" x2="294.8" y2="320.6" stroke="#6f74d0" stroke-width="0.7" />
<polygon points="291.7,318.68 294.5,318.68 293.1,321.06" fill="#6f74d0" stroke="#6f74d0" stroke-width="0.6"/>
<polygon points="291.8,319.14 294.4,319.14 293.1,321.35" fill="none" stroke="#6f74d0" stroke-width="0.6"/>
<polygon points="293.1,318.82 294.2,320.14 293.1,321.46 292,320.14" fill="none" stroke="#6f74d0" stroke-width="0.6"/>
<line x1="327.65" y1="315.03" x2="327.65" y2="316.02" stroke="#6f74d0" stroke-width="0.7" />
<line x1="325.95" y1="315.03" x2="329.35" y2="315.03" stroke="#6f74d0" stroke-width="0.7" />
<line x1="325.95" y1="316.02" x2="329.35" y2="316.02" stroke="#6f74d0" stroke-width="0.7" />
<polygon points="326.25,314.11 329.05,314.11 327.65,316.49" fill="#6f74d0" stroke="#6f74d0" stroke-width="0.6"/>
<polygon points="326.35,315.16 328.95,315.16 327.65,317.37" fill="none" stroke="#6f74d0" stroke-width="0.6"/>
<polygon points="327.65,314.57 328.75,315.89 327.65,317.21 326.55,315.89" fill="none" stroke="#6f74d0" stroke-width="0.6"/>
<line x1="362.2" y1="300.68" x2="362.2" y2="303.3" stroke="#6f74d0" stroke-width="0.7" />
<line x1="360.5" y1="300.68" x2="363.9" y2="300.68" stroke="#6f74d0" stroke-width="0.7" />
<line x1="360.5" y1="303.3" x2="363.9" y2="303.3" stroke="#6f74d0" stroke-width="0.7" />
<polygon points="360.8,300.09 363.6,300.09 362.2,302.47" fill="#6f74d0" stroke="#6f74d0" stroke-width="0.6"/>
<polygon points="360.9,303.39 363.5,303.39 362.2,305.6" fill="none" stroke="#6f74d0" stroke-width="0.6"/>
<polygon points="362.2,301.98 363.3,303.3 362.2,304.62 361.1,303.3" fill="none" stroke="#6f74d0" stroke-width="0.6"/>
<line x1="396.75" y1="275.98" x2="396.75" y2="281.84" stroke="#6f74d0" stroke-width="0.7" />
<line x1="395.05" y1="275.98" x2="398.45" y2="275.98" stroke="#6f74d0" stroke-width="0.7" />
<line x1="395.05" y1="281.84" x2="398.45" y2="281.84" stroke="#6f74d0" stroke-width="0.7" />
<polygon points="395.35,276.03 398.15,276.03 396.75,278.41" fill="#6f74d0" stroke="#6f74d0" stroke-width="0.6"/>
<polygon points="395.45,283.3 398.05,283.3 396.75,285.51" fill="none" stroke="#6f74d0" stroke-width="0.6"/>
<polygon points="396.75,280.52 397.85,281.84 396.75,283.16 395.65,281.84" fill="none" stroke="#6f74d0" stroke-width="0.6"/>
<line x1="431.3" y1="242.45" x2="431.3" y2="252.69" stroke="#6f74d0" stroke-width="0.7" />
<line x1="429.6" y1="242.45" x2="433" y2="242.45" stroke="#6f74d0" stroke-width="0.7" />
<line x1="429.6" y1="252.69" x2="433" y2="252.69" stroke="#6f74d0" stroke-width="0.7" />
<polygon points="429.9,243.38 432.7,243.38 431.3,245.76" fill="#6f74d0" stroke="#6f74d0" stroke-width="0.6"/>
<polygon points="430,256.03 432.6,256.03 431.3,258.24" fill="none" stroke="#6f74d0" stroke-width="0.6"/>
<polygon points="431.3,251.37 432.4,252.69 431.3,254.01 430.2,252.69" fill="none" stroke="#6f74d0" stroke-width="0.6"/>
<polyline points="293.1,319.51 327.65,309.95 362.2,289.86 396.75,264.48 431.3,225.68" fill="none" stroke="#3f95da" stroke-width="1.3" stroke-linejoin="round" />
<line x1="293.1" y1="319.01" x2="293.1" y2="320" stroke="#3f95da" stroke-width="0.7" />
<line x1="291.4" y1="319.01" x2="294.8" y2="319.01" stroke="#3f95da" stroke-width="0.7" />
<line x1="291.4" y1="320" x2="294.8" y2="320" stroke="#3f95da" stroke-width="0.7" />
<polygon points="291.7,318.09 294.5,318.09 293.1,320.47" fill="#3f95da" stroke="#3f95da" stroke-width="0.6"/>
<polygon points="291.8,318.62 294.4,318.62 293.1,320.83" fill="none" stroke="#3f95da" stroke-width="0.6"/>
<polygon points="293.1,318.27 294.2,319.59 293.1,320.91 292,319.59" fill="none" stroke="#3f95da" stroke-width="0.6"/>
<line x1="327.65" y1="309.2" x2="327.65" y2="310.71" stroke="#3f95da" stroke-width="0.7" />
<line x1="325.95" y1="309.2" x2="329.35" y2="309.2" stroke="#3f95da" stroke-width="0.7" />
<line x1="325.95" y1="310.71" x2="329.35" y2="310.71" stroke="#3f95da" stroke-width="0.7" />
<polygon points="326.25,308.38 329.05,308.38 327.65,310.76" fill="#3f95da" stroke="#3f95da" stroke-width="0.6"/>
<polygon points="326.35,310.31 328.95,310.31 327.65,312.52" fill="none" stroke="#3f95da" stroke-width="0.6"/>
<polygon points="327.65,309.39 328.75,310.71 327.65,312.03 326.55,310.71" fill="none" stroke="#3f95da" stroke-width="0.6"/>
<line x1="362.2" y1="287.7" x2="362.2" y2="292.01" stroke="#3f95da" stroke-width="0.7" />
<line x1="360.5" y1="287.7" x2="363.9" y2="287.7" stroke="#3f95da" stroke-width="0.7" />
<line x1="360.5" y1="292.01" x2="363.9" y2="292.01" stroke="#3f95da" stroke-width="0.7" />
<polygon points="360.8,287.44 363.6,287.44 362.2,289.82" fill="#3f95da" stroke="#3f95da" stroke-width="0.6"/>
<polygon points="360.9,292.82 363.5,292.82 362.2,295.03" fill="none" stroke="#3f95da" stroke-width="0.6"/>
<polygon points="362.2,290.69 363.3,292.01 362.2,293.33 361.1,292.01" fill="none" stroke="#3f95da" stroke-width="0.6"/>
<line x1="396.75" y1="260.55" x2="396.75" y2="268.42" stroke="#3f95da" stroke-width="0.7" />
<line x1="395.05" y1="260.55" x2="398.45" y2="260.55" stroke="#3f95da" stroke-width="0.7" />
<line x1="395.05" y1="268.42" x2="398.45" y2="268.42" stroke="#3f95da" stroke-width="0.7" />
<polygon points="395.35,261 398.15,261 396.75,263.38" fill="#3f95da" stroke="#3f95da" stroke-width="0.6"/>
<polygon points="395.45,270.75 398.05,270.75 396.75,272.96" fill="none" stroke="#3f95da" stroke-width="0.6"/>
<polygon points="396.75,267.1 397.85,268.42 396.75,269.74 395.65,268.42" fill="none" stroke="#3f95da" stroke-width="0.6"/>
<line x1="431.3" y1="219.03" x2="431.3" y2="232.33" stroke="#3f95da" stroke-width="0.7" />
<line x1="429.6" y1="219.03" x2="433" y2="219.03" stroke="#3f95da" stroke-width="0.7" />
<line x1="429.6" y1="232.33" x2="433" y2="232.33" stroke="#3f95da" stroke-width="0.7" />
<polygon points="429.9,220.57 432.7,220.57 431.3,222.95" fill="#3f95da" stroke="#3f95da" stroke-width="0.6"/>
<polygon points="430,236.99 432.6,236.99 431.3,239.2" fill="none" stroke="#3f95da" stroke-width="0.6"/>
<polygon points="431.3,231.01 432.4,232.33 431.3,233.65 430.2,232.33" fill="none" stroke="#3f95da" stroke-width="0.6"/>
<rect x="276.2" y="191.7" width="172.4" height="138.6" fill="none" stroke="#1a1a1a" stroke-width="1.1" />
<line x1="273.2" y1="320.7" x2="276.2" y2="320.7" stroke="#1a1a1a" stroke-width="1" />
<line x1="273.2" y1="280.9" x2="276.2" y2="280.9" stroke="#1a1a1a" stroke-width="1" />
<line x1="273.2" y1="241.1" x2="276.2" y2="241.1" stroke="#1a1a1a" stroke-width="1" />
<line x1="273.2" y1="201.3" x2="276.2" y2="201.3" stroke="#1a1a1a" stroke-width="1" />
<line x1="274.6" y1="300.8" x2="276.2" y2="300.8" stroke="#1a1a1a" stroke-width="1" />
<line x1="274.6" y1="261" x2="276.2" y2="261" stroke="#1a1a1a" stroke-width="1" />
<line x1="274.6" y1="221.2" x2="276.2" y2="221.2" stroke="#1a1a1a" stroke-width="1" />
<text x="271.1" y="323.4" font-size="8.8" font-weight="bold" fill="#000" stroke="#000" stroke-width="0.28" text-anchor="end" >0</text>
<text x="271.1" y="283.6" font-size="8.8" font-weight="bold" fill="#000" stroke="#000" stroke-width="0.28" text-anchor="end" >400</text>
<text x="271.1" y="243.8" font-size="8.8" font-weight="bold" fill="#000" stroke="#000" stroke-width="0.28" text-anchor="end" >800</text>
<text x="271.1" y="204" font-size="8.8" font-weight="bold" fill="#000" stroke="#000" stroke-width="0.28" text-anchor="end" >1,200</text>
<line x1="293.1" y1="330.3" x2="293.1" y2="333.3" stroke="#1a1a1a" stroke-width="1" />
<line x1="327.65" y1="330.3" x2="327.65" y2="333.3" stroke="#1a1a1a" stroke-width="1" />
<line x1="362.2" y1="330.3" x2="362.2" y2="333.3" stroke="#1a1a1a" stroke-width="1" />
<line x1="396.75" y1="330.3" x2="396.75" y2="333.3" stroke="#1a1a1a" stroke-width="1" />
<line x1="431.3" y1="330.3" x2="431.3" y2="333.3" stroke="#1a1a1a" stroke-width="1" />
<line x1="310.38" y1="330.3" x2="310.38" y2="331.9" stroke="#1a1a1a" stroke-width="1" />
<line x1="344.93" y1="330.3" x2="344.93" y2="331.9" stroke="#1a1a1a" stroke-width="1" />
<line x1="379.48" y1="330.3" x2="379.48" y2="331.9" stroke="#1a1a1a" stroke-width="1" />
<line x1="414.02" y1="330.3" x2="414.02" y2="331.9" stroke="#1a1a1a" stroke-width="1" />
<text x="293.1" y="341.9" font-size="8.8" font-weight="bold" fill="#000" stroke="#000" stroke-width="0.28" text-anchor="middle" >0.5</text>
<text x="327.65" y="341.9" font-size="8.8" font-weight="bold" fill="#000" stroke="#000" stroke-width="0.28" text-anchor="middle" >1.0</text>
<text x="362.2" y="341.9" font-size="8.8" font-weight="bold" fill="#000" stroke="#000" stroke-width="0.28" text-anchor="middle" >1.5</text>
<text x="396.75" y="341.9" font-size="8.8" font-weight="bold" fill="#000" stroke="#000" stroke-width="0.28" text-anchor="middle" >2.0</text>
<text x="431.3" y="341.9" font-size="8.8" font-weight="bold" fill="#000" stroke="#000" stroke-width="0.28" text-anchor="middle" >2.5</text>
<text x="247.3" y="308" font-size="9.6" font-weight="bold" fill="#000" stroke="#000" stroke-width="0.28" textLength="84.8" lengthAdjust="spacingAndGlyphs" transform="rotate(-90 247.3 308)" >Luminance (cd m<tspan font-size="6" dy="-3.5">-2</tspan><tspan dy="3.5">)</tspan></text>
<text x="336.3" y="357.2" font-size="9.2" font-weight="bold" fill="#000" stroke="#000" stroke-width="0.28" textLength="59" lengthAdjust="spacingAndGlyphs" >Field (V μm<tspan font-size="6" dy="-3.5">-1</tspan><tspan dy="3.5">)</tspan></text>
<line x1="287" y1="211.3" x2="309" y2="211.3" stroke="#3ab4ca" stroke-width="1.3" />
<line x1="287" y1="221.4" x2="309" y2="221.4" stroke="#3cc27e" stroke-width="1.3" />
<line x1="287" y1="232.7" x2="309" y2="232.7" stroke="#6f74d0" stroke-width="1.3" />
<line x1="287" y1="243.8" x2="309" y2="243.8" stroke="#3f95da" stroke-width="1.3" />
<text x="315" y="212.8" font-size="8.4" font-weight="bold" fill="#000" stroke="#000" stroke-width="0.28" textLength="36" lengthAdjust="spacingAndGlyphs" >AVD-10%</text>
<text x="315" y="223.9" font-size="8.4" font-weight="bold" fill="#000" stroke="#000" stroke-width="0.28" textLength="36" lengthAdjust="spacingAndGlyphs" >AVD-20%</text>
<text x="315" y="235" font-size="8.4" font-weight="bold" fill="#000" stroke="#000" stroke-width="0.28" textLength="36" lengthAdjust="spacingAndGlyphs" >AVD-30%</text>
<text x="315" y="246.3" font-size="8.4" font-weight="bold" fill="#000" stroke="#000" stroke-width="0.28" textLength="36" lengthAdjust="spacingAndGlyphs" >AVD-40%</text>
<text x="400.2" y="212.8" font-size="8.4" font-weight="bold" fill="#000" stroke="#000" stroke-width="0.28" textLength="32.7" lengthAdjust="spacingAndGlyphs" >APELSD</text>
<text x="469.1" y="193.8" font-size="11" font-weight="bold" fill="#000" stroke="#000" stroke-width="0.28" >f</text>
<path d="M510,330.8 C513.15,329.58 522.73,325.92 528.9,323.47 C535.07,321.03 540.53,318.81 547.04,316.15 C553.56,313.48 561.86,310.6 567.99,307.49 C574.11,304.38 578.96,301 583.79,297.5 C588.61,294 592.61,290.45 596.94,286.51 C601.27,282.57 605,278.41 609.79,273.86 C614.58,269.31 621.89,262.54 625.67,259.21 C629.45,255.88 630.71,254.99 632.47,253.88 C634.24,252.77 634.99,252.66 636.25,252.55 C637.51,252.43 638.65,252.49 640.03,253.21 C641.42,253.93 643.31,255.15 644.57,256.87 C645.83,258.59 646.71,261.09 647.59,263.53 C648.47,265.98 649.28,268.36 649.86,271.53 C650.44,274.69 650.82,279.46 651.07,282.51 C651.32,285.57 651.32,288.62 651.37,289.84 L651.37,330.8" fill="none" stroke="#3f95da" stroke-width="1.3"/>
<path d="M510,331.3 L684.5,331.3 L684.5,190.7 L510,190.7 Z" fill="none" stroke="#1a1a1a" stroke-width="1.1"/>
<line x1="507" y1="330.8" x2="510" y2="330.8" stroke="#1a1a1a" stroke-width="1" />
<line x1="507" y1="297.5" x2="510" y2="297.5" stroke="#1a1a1a" stroke-width="1" />
<line x1="507" y1="264.2" x2="510" y2="264.2" stroke="#1a1a1a" stroke-width="1" />
<line x1="507" y1="230.9" x2="510" y2="230.9" stroke="#1a1a1a" stroke-width="1" />
<line x1="507" y1="197.6" x2="510" y2="197.6" stroke="#1a1a1a" stroke-width="1" />
<text x="505" y="333.7" font-size="8.8" font-weight="bold" fill="#000" stroke="#000" stroke-width="0.28" text-anchor="end" >0</text>
<text x="505" y="300.4" font-size="8.8" font-weight="bold" fill="#000" stroke="#000" stroke-width="0.28" text-anchor="end" >1</text>
<text x="505" y="267.1" font-size="8.8" font-weight="bold" fill="#000" stroke="#000" stroke-width="0.28" text-anchor="end" >2</text>
<text x="505" y="233.8" font-size="8.8" font-weight="bold" fill="#000" stroke="#000" stroke-width="0.28" text-anchor="end" >3</text>
<text x="505" y="200.5" font-size="8.8" font-weight="bold" fill="#000" stroke="#000" stroke-width="0.28" text-anchor="end" >4</text>
<line x1="510" y1="331.3" x2="510" y2="334.3" stroke="#1a1a1a" stroke-width="1" />
<line x1="547.8" y1="331.3" x2="547.8" y2="334.3" stroke="#1a1a1a" stroke-width="1" />
<line x1="585.6" y1="331.3" x2="585.6" y2="334.3" stroke="#1a1a1a" stroke-width="1" />
<line x1="623.4" y1="331.3" x2="623.4" y2="334.3" stroke="#1a1a1a" stroke-width="1" />
<line x1="661.2" y1="331.3" x2="661.2" y2="334.3" stroke="#1a1a1a" stroke-width="1" />
<text x="510" y="343.2" font-size="8.8" font-weight="bold" fill="#000" stroke="#000" stroke-width="0.28" text-anchor="middle" >0</text>
<text x="547.8" y="343.2" font-size="8.8" font-weight="bold" fill="#000" stroke="#000" stroke-width="0.28" text-anchor="middle" >50</text>
<text x="585.6" y="343.2" font-size="8.8" font-weight="bold" fill="#000" stroke="#000" stroke-width="0.28" text-anchor="middle" >100</text>
<text x="623.4" y="343.2" font-size="8.8" font-weight="bold" fill="#000" stroke="#000" stroke-width="0.28" text-anchor="middle" >150</text>
<text x="661.2" y="343.2" font-size="8.8" font-weight="bold" fill="#000" stroke="#000" stroke-width="0.28" text-anchor="middle" >200</text>
<text x="485" y="292.1" font-size="9.6" font-weight="bold" fill="#000" stroke="#000" stroke-width="0.28" textLength="56.7" lengthAdjust="spacingAndGlyphs" transform="rotate(-90 485 292.1)" >Stress (MPa)</text>
<text x="585" y="354.6" font-size="9.2" font-weight="bold" fill="#000" stroke="#000" stroke-width="0.28" textLength="42.5" lengthAdjust="spacingAndGlyphs" >Strain (%)</text>
<line x1="520.8" y1="208.9" x2="542.6" y2="208.9" stroke="#3f95da" stroke-width="1.3" />
<text x="548.4" y="212.3" font-size="8.4" font-weight="bold" fill="#000" stroke="#000" stroke-width="0.28" textLength="32.8" lengthAdjust="spacingAndGlyphs" >APELSD</text>
<text x="1" y="379" font-size="11" font-weight="bold" fill="#000" stroke="#000" stroke-width="0.28" >g</text>
<polyline points="56.2,475.83 91.14,469.68 126.08,482.74 161.02,493.49 195.96,510.39" fill="none" stroke="#3cc27e" stroke-width="1.3" stroke-linejoin="round" />
<line x1="56.2" y1="473.75" x2="56.2" y2="477.9" stroke="#3cc27e" stroke-width="0.7" />
<line x1="54.2" y1="473.75" x2="58.2" y2="473.75" stroke="#3cc27e" stroke-width="0.7" />
<line x1="54.2" y1="477.9" x2="58.2" y2="477.9" stroke="#3cc27e" stroke-width="0.7" />
<circle cx="56.2" cy="473.96" r="1.5" fill="none" stroke="#3cc27e" stroke-width="0.6"/>
<polygon points="56.2,476.01 57.6,477.69 56.2,479.37 54.8,477.69" fill="none" stroke="#3cc27e" stroke-width="0.6"/>
<rect x="54.8" y="474.43" width="2.8" height="2.8" fill="#3cc27e" stroke="#3cc27e" stroke-width="0.6"/>
<line x1="91.14" y1="467.3" x2="91.14" y2="472.06" stroke="#3cc27e" stroke-width="0.7" />
<line x1="89.14" y1="467.3" x2="93.14" y2="467.3" stroke="#3cc27e" stroke-width="0.7" />
<line x1="89.14" y1="472.06" x2="93.14" y2="472.06" stroke="#3cc27e" stroke-width="0.7" />
<circle cx="91.14" cy="467.54" r="1.5" fill="none" stroke="#3cc27e" stroke-width="0.6"/>
<polygon points="91.14,470.15 92.54,471.83 91.14,473.51 89.74,471.83" fill="none" stroke="#3cc27e" stroke-width="0.6"/>
<rect x="89.74" y="468.28" width="2.8" height="2.8" fill="#3cc27e" stroke="#3cc27e" stroke-width="0.6"/>
<line x1="126.08" y1="481.01" x2="126.08" y2="484.47" stroke="#3cc27e" stroke-width="0.7" />
<line x1="124.08" y1="481.01" x2="128.08" y2="481.01" stroke="#3cc27e" stroke-width="0.7" />
<line x1="124.08" y1="484.47" x2="128.08" y2="484.47" stroke="#3cc27e" stroke-width="0.7" />
<circle cx="126.08" cy="481.18" r="1.5" fill="none" stroke="#3cc27e" stroke-width="0.6"/>
<polygon points="126.08,482.62 127.48,484.3 126.08,485.98 124.68,484.3" fill="none" stroke="#3cc27e" stroke-width="0.6"/>
<rect x="124.68" y="481.34" width="2.8" height="2.8" fill="#3cc27e" stroke="#3cc27e" stroke-width="0.6"/>
<line x1="161.02" y1="491.96" x2="161.02" y2="495.03" stroke="#3cc27e" stroke-width="0.7" />
<line x1="159.02" y1="491.96" x2="163.02" y2="491.96" stroke="#3cc27e" stroke-width="0.7" />
<line x1="159.02" y1="495.03" x2="163.02" y2="495.03" stroke="#3cc27e" stroke-width="0.7" />
<circle cx="161.02" cy="492.11" r="1.5" fill="none" stroke="#3cc27e" stroke-width="0.6"/>
<polygon points="161.02,493.19 162.42,494.87 161.02,496.55 159.62,494.87" fill="none" stroke="#3cc27e" stroke-width="0.6"/>
<rect x="159.62" y="492.09" width="2.8" height="2.8" fill="#3cc27e" stroke="#3cc27e" stroke-width="0.6"/>
<line x1="195.96" y1="508.85" x2="195.96" y2="511.92" stroke="#3cc27e" stroke-width="0.7" />
<line x1="193.96" y1="508.85" x2="197.96" y2="508.85" stroke="#3cc27e" stroke-width="0.7" />
<line x1="193.96" y1="511.92" x2="197.96" y2="511.92" stroke="#3cc27e" stroke-width="0.7" />
<circle cx="195.96" cy="509.01" r="1.5" fill="none" stroke="#3cc27e" stroke-width="0.6"/>
<polygon points="195.96,510.09 197.36,511.77 195.96,513.45 194.56,511.77" fill="none" stroke="#3cc27e" stroke-width="0.6"/>
<rect x="194.56" y="508.99" width="2.8" height="2.8" fill="#3cc27e" stroke="#3cc27e" stroke-width="0.6"/>
<polyline points="56.2,450.74 91.14,445.36 126.08,456.37 161.02,482.74 195.96,501.94" fill="none" stroke="#6f74d0" stroke-width="1.3" stroke-linejoin="round" />
<line x1="56.2" y1="447.41" x2="56.2" y2="454.07" stroke="#6f74d0" stroke-width="0.7" />
<line x1="54.2" y1="447.41" x2="58.2" y2="447.41" stroke="#6f74d0" stroke-width="0.7" />
<line x1="54.2" y1="454.07" x2="58.2" y2="454.07" stroke="#6f74d0" stroke-width="0.7" />
<circle cx="56.2" cy="447.74" r="1.5" fill="none" stroke="#6f74d0" stroke-width="0.6"/>
<polygon points="56.2,452.06 57.6,453.74 56.2,455.42 54.8,453.74" fill="none" stroke="#6f74d0" stroke-width="0.6"/>
<rect x="54.8" y="449.34" width="2.8" height="2.8" fill="#6f74d0" stroke="#6f74d0" stroke-width="0.6"/>
<line x1="91.14" y1="441.77" x2="91.14" y2="448.96" stroke="#6f74d0" stroke-width="0.7" />
<line x1="89.14" y1="441.77" x2="93.14" y2="441.77" stroke="#6f74d0" stroke-width="0.7" />
<line x1="89.14" y1="448.96" x2="93.14" y2="448.96" stroke="#6f74d0" stroke-width="0.7" />
<circle cx="91.14" cy="442.13" r="1.5" fill="none" stroke="#6f74d0" stroke-width="0.6"/>
<polygon points="91.14,446.92 92.54,448.6 91.14,450.28 89.74,448.6" fill="none" stroke="#6f74d0" stroke-width="0.6"/>
<rect x="89.74" y="443.96" width="2.8" height="2.8" fill="#6f74d0" stroke="#6f74d0" stroke-width="0.6"/>
<line x1="126.08" y1="453.33" x2="126.08" y2="459.42" stroke="#6f74d0" stroke-width="0.7" />
<line x1="124.08" y1="453.33" x2="128.08" y2="453.33" stroke="#6f74d0" stroke-width="0.7" />
<line x1="124.08" y1="459.42" x2="128.08" y2="459.42" stroke="#6f74d0" stroke-width="0.7" />
<circle cx="126.08" cy="453.63" r="1.5" fill="none" stroke="#6f74d0" stroke-width="0.6"/>
<polygon points="126.08,457.43 127.48,459.11 126.08,460.79 124.68,459.11" fill="none" stroke="#6f74d0" stroke-width="0.6"/>
<rect x="124.68" y="454.97" width="2.8" height="2.8" fill="#6f74d0" stroke="#6f74d0" stroke-width="0.6"/>
<line x1="161.02" y1="481.01" x2="161.02" y2="484.47" stroke="#6f74d0" stroke-width="0.7" />
<line x1="159.02" y1="481.01" x2="163.02" y2="481.01" stroke="#6f74d0" stroke-width="0.7" />
<line x1="159.02" y1="484.47" x2="163.02" y2="484.47" stroke="#6f74d0" stroke-width="0.7" />
<circle cx="161.02" cy="481.18" r="1.5" fill="none" stroke="#6f74d0" stroke-width="0.6"/>
<polygon points="161.02,482.62 162.42,484.3 161.02,485.98 159.62,484.3" fill="none" stroke="#6f74d0" stroke-width="0.6"/>
<rect x="159.62" y="481.34" width="2.8" height="2.8" fill="#6f74d0" stroke="#6f74d0" stroke-width="0.6"/>
<line x1="195.96" y1="500.4" x2="195.96" y2="503.48" stroke="#6f74d0" stroke-width="0.7" />
<line x1="193.96" y1="500.4" x2="197.96" y2="500.4" stroke="#6f74d0" stroke-width="0.7" />
<line x1="193.96" y1="503.48" x2="197.96" y2="503.48" stroke="#6f74d0" stroke-width="0.7" />
<circle cx="195.96" cy="500.56" r="1.5" fill="none" stroke="#6f74d0" stroke-width="0.6"/>
<polygon points="195.96,501.64 197.36,503.32 195.96,505 194.56,503.32" fill="none" stroke="#6f74d0" stroke-width="0.6"/>
<rect x="194.56" y="500.54" width="2.8" height="2.8" fill="#6f74d0" stroke="#6f74d0" stroke-width="0.6"/>
<polyline points="56.2,441.52 91.14,432.31 126.08,446.13 161.02,461.49 195.96,481.46" fill="none" stroke="#3f95da" stroke-width="1.3" stroke-linejoin="round" />
<line x1="56.2" y1="437.74" x2="56.2" y2="445.31" stroke="#3f95da" stroke-width="0.7" />
<line x1="54.2" y1="437.74" x2="58.2" y2="437.74" stroke="#3f95da" stroke-width="0.7" />
<line x1="54.2" y1="445.31" x2="58.2" y2="445.31" stroke="#3f95da" stroke-width="0.7" />
<circle cx="56.2" cy="438.11" r="1.5" fill="none" stroke="#3f95da" stroke-width="0.6"/>
<polygon points="56.2,443.25 57.6,444.93 56.2,446.61 54.8,444.93" fill="none" stroke="#3f95da" stroke-width="0.6"/>
<rect x="54.8" y="440.12" width="2.8" height="2.8" fill="#3f95da" stroke="#3f95da" stroke-width="0.6"/>
<line x1="91.14" y1="428.06" x2="91.14" y2="436.56" stroke="#3f95da" stroke-width="0.7" />
<line x1="89.14" y1="428.06" x2="93.14" y2="428.06" stroke="#3f95da" stroke-width="0.7" />
<line x1="89.14" y1="436.56" x2="93.14" y2="436.56" stroke="#3f95da" stroke-width="0.7" />
<circle cx="91.14" cy="428.48" r="1.5" fill="none" stroke="#3f95da" stroke-width="0.6"/>
<polygon points="91.14,434.45 92.54,436.13 91.14,437.81 89.74,436.13" fill="none" stroke="#3f95da" stroke-width="0.6"/>
<rect x="89.74" y="430.91" width="2.8" height="2.8" fill="#3f95da" stroke="#3f95da" stroke-width="0.6"/>
<line x1="126.08" y1="442.57" x2="126.08" y2="449.69" stroke="#3f95da" stroke-width="0.7" />
<line x1="124.08" y1="442.57" x2="128.08" y2="442.57" stroke="#3f95da" stroke-width="0.7" />
<line x1="124.08" y1="449.69" x2="128.08" y2="449.69" stroke="#3f95da" stroke-width="0.7" />
<circle cx="126.08" cy="442.93" r="1.5" fill="none" stroke="#3f95da" stroke-width="0.6"/>
<polygon points="126.08,447.65 127.48,449.33 126.08,451.01 124.68,449.33" fill="none" stroke="#3f95da" stroke-width="0.6"/>
<rect x="124.68" y="444.73" width="2.8" height="2.8" fill="#3f95da" stroke="#3f95da" stroke-width="0.6"/>
<line x1="161.02" y1="458.7" x2="161.02" y2="464.28" stroke="#3f95da" stroke-width="0.7" />
<line x1="159.02" y1="458.7" x2="163.02" y2="458.7" stroke="#3f95da" stroke-width="0.7" />
<line x1="159.02" y1="464.28" x2="163.02" y2="464.28" stroke="#3f95da" stroke-width="0.7" />
<circle cx="161.02" cy="458.98" r="1.5" fill="none" stroke="#3f95da" stroke-width="0.6"/>
<polygon points="161.02,462.32 162.42,464 161.02,465.68 159.62,464" fill="none" stroke="#3f95da" stroke-width="0.6"/>
<rect x="159.62" y="460.09" width="2.8" height="2.8" fill="#3f95da" stroke="#3f95da" stroke-width="0.6"/>
<line x1="195.96" y1="479.67" x2="195.96" y2="483.25" stroke="#3f95da" stroke-width="0.7" />
<line x1="193.96" y1="479.67" x2="197.96" y2="479.67" stroke="#3f95da" stroke-width="0.7" />
<line x1="193.96" y1="483.25" x2="197.96" y2="483.25" stroke="#3f95da" stroke-width="0.7" />
<circle cx="195.96" cy="479.85" r="1.5" fill="none" stroke="#3f95da" stroke-width="0.6"/>
<polygon points="195.96,481.39 197.36,483.07 195.96,484.75 194.56,483.07" fill="none" stroke="#3f95da" stroke-width="0.6"/>
<rect x="194.56" y="480.06" width="2.8" height="2.8" fill="#3f95da" stroke="#3f95da" stroke-width="0.6"/>
<circle cx="161.02" cy="453.3" r="1.6" fill="none" stroke="#3f95da" stroke-width="0.6"/>
<line x1="161.02" y1="453.3" x2="161.02" y2="461.49" stroke="#3f95da" stroke-width="0.7" />
<polygon points="195.96,470.05 197.36,471.73 195.96,473.41 194.56,471.73" fill="none" stroke="#3f95da" stroke-width="0.6"/>
<circle cx="195.96" cy="492.21" r="1.5" fill="none" stroke="#3f95da" stroke-width="0.6"/>
<line x1="195.96" y1="471.73" x2="195.96" y2="492.21" stroke="#3f95da" stroke-width="0.7" />
<circle cx="91.14" cy="439.22" r="1.6" fill="none" stroke="#6f74d0" stroke-width="0.6"/>
<circle cx="91.14" cy="464.82" r="1.5" fill="none" stroke="#3cc27e" stroke-width="0.6"/>
<circle cx="91.14" cy="475.06" r="1.5" fill="none" stroke="#3cc27e" stroke-width="0.6"/>
<rect x="38.3" y="377.5" width="175.1" height="140.5" fill="none" stroke="#1a1a1a" stroke-width="1.1" />
<line x1="35.3" y1="517.3" x2="38.3" y2="517.3" stroke="#1a1a1a" stroke-width="1" />
<line x1="35.3" y1="491.7" x2="38.3" y2="491.7" stroke="#1a1a1a" stroke-width="1" />
<line x1="35.3" y1="466.1" x2="38.3" y2="466.1" stroke="#1a1a1a" stroke-width="1" />
<line x1="35.3" y1="440.5" x2="38.3" y2="440.5" stroke="#1a1a1a" stroke-width="1" />
<line x1="35.3" y1="414.9" x2="38.3" y2="414.9" stroke="#1a1a1a" stroke-width="1" />
<line x1="35.3" y1="389.3" x2="38.3" y2="389.3" stroke="#1a1a1a" stroke-width="1" />
<line x1="36.7" y1="504.5" x2="38.3" y2="504.5" stroke="#1a1a1a" stroke-width="1" />
<line x1="36.7" y1="478.9" x2="38.3" y2="478.9" stroke="#1a1a1a" stroke-width="1" />
<line x1="36.7" y1="453.3" x2="38.3" y2="453.3" stroke="#1a1a1a" stroke-width="1" />
<line x1="36.7" y1="427.7" x2="38.3" y2="427.7" stroke="#1a1a1a" stroke-width="1" />
<line x1="36.7" y1="402.1" x2="38.3" y2="402.1" stroke="#1a1a1a" stroke-width="1" />
<text x="33.5" y="520" font-size="8.8" font-weight="bold" fill="#000" stroke="#000" stroke-width="0.28" text-anchor="end" >0</text>
<text x="33.5" y="494.4" font-size="8.8" font-weight="bold" fill="#000" stroke="#000" stroke-width="0.28" text-anchor="end" >100</text>
<text x="33.5" y="468.8" font-size="8.8" font-weight="bold" fill="#000" stroke="#000" stroke-width="0.28" text-anchor="end" >200</text>
<text x="33.5" y="443.2" font-size="8.8" font-weight="bold" fill="#000" stroke="#000" stroke-width="0.28" text-anchor="end" >300</text>
<text x="33.5" y="417.6" font-size="8.8" font-weight="bold" fill="#000" stroke="#000" stroke-width="0.28" text-anchor="end" >400</text>
<text x="33.5" y="392" font-size="8.8" font-weight="bold" fill="#000" stroke="#000" stroke-width="0.28" text-anchor="end" >500</text>
<line x1="56.2" y1="518" x2="56.2" y2="521" stroke="#1a1a1a" stroke-width="1" />
<line x1="91.14" y1="518" x2="91.14" y2="521" stroke="#1a1a1a" stroke-width="1" />
<line x1="126.08" y1="518" x2="126.08" y2="521" stroke="#1a1a1a" stroke-width="1" />
<line x1="161.02" y1="518" x2="161.02" y2="521" stroke="#1a1a1a" stroke-width="1" />
<line x1="195.96" y1="518" x2="195.96" y2="521" stroke="#1a1a1a" stroke-width="1" />
<line x1="38.73" y1="518" x2="38.73" y2="519.6" stroke="#1a1a1a" stroke-width="1" />
<line x1="73.67" y1="518" x2="73.67" y2="519.6" stroke="#1a1a1a" stroke-width="1" />
<line x1="108.61" y1="518" x2="108.61" y2="519.6" stroke="#1a1a1a" stroke-width="1" />
<line x1="143.55" y1="518" x2="143.55" y2="519.6" stroke="#1a1a1a" stroke-width="1" />
<line x1="178.49" y1="518" x2="178.49" y2="519.6" stroke="#1a1a1a" stroke-width="1" />
<line x1="213.43" y1="518" x2="213.43" y2="519.6" stroke="#1a1a1a" stroke-width="1" />
<text x="56.2" y="529.4" font-size="8.8" font-weight="bold" fill="#000" stroke="#000" stroke-width="0.28" text-anchor="middle" >0</text>
<text x="91.14" y="529.4" font-size="8.8" font-weight="bold" fill="#000" stroke="#000" stroke-width="0.28" text-anchor="middle" >20</text>
<text x="126.08" y="529.4" font-size="8.8" font-weight="bold" fill="#000" stroke="#000" stroke-width="0.28" text-anchor="middle" >40</text>
<text x="161.02" y="529.4" font-size="8.8" font-weight="bold" fill="#000" stroke="#000" stroke-width="0.28" text-anchor="middle" >60</text>
<text x="195.96" y="529.4" font-size="8.8" font-weight="bold" fill="#000" stroke="#000" stroke-width="0.28" text-anchor="middle" >80</text>
<text x="10.5" y="496.8" font-size="9.6" font-weight="bold" fill="#000" stroke="#000" stroke-width="0.28" textLength="85.1" lengthAdjust="spacingAndGlyphs" transform="rotate(-90 10.5 496.8)" >Luminance (cd m<tspan font-size="6" dy="-3.5">-2</tspan><tspan dy="3.5">)</tspan></text>
<text x="106.8" y="541.2" font-size="9.2" font-weight="bold" fill="#000" stroke="#000" stroke-width="0.28" textLength="42.6" lengthAdjust="spacingAndGlyphs" >Strain (%)</text>
<line x1="46.2" y1="397.5" x2="68" y2="397.5" stroke="#3cc27e" stroke-width="1.3" />
<line x1="46.2" y1="408.2" x2="68" y2="408.2" stroke="#6f74d0" stroke-width="1.3" />
<line x1="46.2" y1="418.4" x2="68" y2="418.4" stroke="#3f95da" stroke-width="1.3" />
<text x="74.3" y="400.2" font-size="8.4" font-weight="bold" fill="#000" stroke="#000" stroke-width="0.28" textLength="33.9" lengthAdjust="spacingAndGlyphs" >30% ZnS</text>
<text x="74.3" y="410.9" font-size="8.4" font-weight="bold" fill="#000" stroke="#000" stroke-width="0.28" textLength="33.9" lengthAdjust="spacingAndGlyphs" >50% ZnS</text>
<text x="74.3" y="421.3" font-size="8.4" font-weight="bold" fill="#000" stroke="#000" stroke-width="0.28" textLength="33.9" lengthAdjust="spacingAndGlyphs" >70% ZnS</text>
<text x="169.2" y="400" font-size="8.4" font-weight="bold" fill="#000" stroke="#000" stroke-width="0.28" textLength="32.8" lengthAdjust="spacingAndGlyphs" >APELSD</text>
<text x="238" y="382.2" font-size="11" font-weight="bold" fill="#000" stroke="#000" stroke-width="0.28" >h</text>
<rect x="262.3" y="380.1" width="191.9" height="140.7" fill="#000" />
<text x="286.6" y="395.4" font-size="9.2" font-weight="bold" fill="#fff" stroke="#fff" stroke-width="0.28" textLength="35.7" lengthAdjust="spacingAndGlyphs" >30%ZnS</text>
<text x="348" y="395.4" font-size="9.2" font-weight="bold" fill="#fff" stroke="#fff" stroke-width="0.28" textLength="38.4" lengthAdjust="spacingAndGlyphs" >50% ZnS</text>
<text x="408.4" y="395.4" font-size="9.2" font-weight="bold" fill="#fff" stroke="#fff" stroke-width="0.28" textLength="38.3" lengthAdjust="spacingAndGlyphs" >70% ZnS</text>
<text x="287.4" y="412.9" font-size="10" font-weight="bold" fill="#fff" stroke="#fff" stroke-width="0.28" text-anchor="end" textLength="13.1" lengthAdjust="spacingAndGlyphs" >0%</text>
<rect x="289.9" y="402.2" width="26.2" height="11.7" fill="url(#strip)"/>
<rect x="289.9" y="402.2" width="26.2" height="11.7" fill="none" stroke="#2aa8b0" stroke-width="0.6"/>
<rect x="350" y="402.2" width="20.8" height="11.7" fill="url(#strip)"/>
<rect x="350" y="402.2" width="20.8" height="11.7" fill="none" stroke="#2aa8b0" stroke-width="0.6"/>
<rect x="410.7" y="401" width="25.2" height="14.3" fill="url(#strip)"/>
<rect x="410.7" y="401" width="25.2" height="14.3" fill="none" stroke="#2aa8b0" stroke-width="0.6"/>
<text x="287.4" y="436.6" font-size="10" font-weight="bold" fill="#fff" stroke="#fff" stroke-width="0.28" text-anchor="end" textLength="18" lengthAdjust="spacingAndGlyphs" >20%</text>
<rect x="289.9" y="426" width="29.4" height="11.6" fill="url(#strip)"/>
<rect x="289.9" y="426" width="29.4" height="11.6" fill="none" stroke="#2aa8b0" stroke-width="0.6"/>
<rect x="350" y="426" width="25.9" height="11.6" fill="url(#strip)"/>
<rect x="350" y="426" width="25.9" height="11.6" fill="none" stroke="#2aa8b0" stroke-width="0.6"/>
<rect x="410.7" y="424.8" width="29.4" height="14.2" fill="url(#strip)"/>
<rect x="410.7" y="424.8" width="29.4" height="14.2" fill="none" stroke="#2aa8b0" stroke-width="0.6"/>
<text x="287.4" y="460.5" font-size="10" font-weight="bold" fill="#fff" stroke="#fff" stroke-width="0.28" text-anchor="end" textLength="18.8" lengthAdjust="spacingAndGlyphs" >40%</text>
<rect x="289.9" y="450.5" width="32.9" height="11" fill="url(#strip)"/>
<rect x="289.9" y="450.5" width="32.9" height="11" fill="none" stroke="#2aa8b0" stroke-width="0.6"/>
<rect x="350" y="450.5" width="30.5" height="11" fill="url(#strip)"/>
<rect x="350" y="450.5" width="30.5" height="11" fill="none" stroke="#2aa8b0" stroke-width="0.6"/>
<rect x="410.7" y="449.3" width="32.4" height="13.6" fill="url(#strip)"/>
<rect x="410.7" y="449.3" width="32.4" height="13.6" fill="none" stroke="#2aa8b0" stroke-width="0.6"/>
<text x="287.4" y="483.9" font-size="10" font-weight="bold" fill="#fff" stroke="#fff" stroke-width="0.28" text-anchor="end" textLength="18.8" lengthAdjust="spacingAndGlyphs" >60%</text>
<rect x="289.9" y="473.5" width="36.5" height="11.4" fill="url(#strip2)"/>
<rect x="289.9" y="473.5" width="36.5" height="11.4" fill="none" stroke="#2aa8b0" stroke-width="0.6"/>
<rect x="350" y="473.5" width="35" height="11.4" fill="url(#strip2)"/>
<rect x="350" y="473.5" width="35" height="11.4" fill="none" stroke="#2aa8b0" stroke-width="0.6"/>
<rect x="410.7" y="472.3" width="36" height="14" fill="url(#strip2)"/>
<rect x="410.7" y="472.3" width="36" height="14" fill="none" stroke="#2aa8b0" stroke-width="0.6"/>
<text x="287.4" y="507.8" font-size="10" font-weight="bold" fill="#fff" stroke="#fff" stroke-width="0.28" text-anchor="end" textLength="18.8" lengthAdjust="spacingAndGlyphs" >80%</text>
<rect x="289.9" y="497.5" width="39.5" height="11.3" fill="url(#strip2)"/>
<rect x="289.9" y="499" width="39.5" height="8.3" fill="url(#strip3)" opacity="0.7"/>
<rect x="289.9" y="497.5" width="39.5" height="11.3" fill="none" stroke="#2aa8b0" stroke-width="0.6"/>
<rect x="350" y="497.5" width="40.1" height="11.3" fill="url(#strip2)"/>
<rect x="350" y="497.5" width="40.1" height="11.3" fill="none" stroke="#2aa8b0" stroke-width="0.6"/>
<rect x="410.7" y="496.3" width="40.4" height="13.9" fill="url(#strip2)"/>
<rect x="410.7" y="496.3" width="40.4" height="13.9" fill="none" stroke="#2aa8b0" stroke-width="0.6"/>
<line x1="428.6" y1="515.4" x2="444.2" y2="515.4" stroke="#fff" stroke-width="1.8" />
<text x="472" y="381.4" font-size="11" font-weight="bold" fill="#000" stroke="#000" stroke-width="0.28" >i</text>
<path d="M509.3,513.12 C514.51,511.49 530.13,506.9 540.55,503.33 C550.97,499.76 561.38,495.48 571.8,491.7 C582.22,487.93 592.63,484.56 603.05,480.69 C613.47,476.81 629.09,470.49 634.3,468.45" fill="none" stroke="#3cc27e" stroke-width="1.6"/>
<path d="M509.3,514.96 C514.51,513.33 530.13,508.64 540.55,505.17 C550.97,501.7 561.38,497.82 571.8,494.15 C582.22,490.48 592.63,487.22 603.05,483.14 C613.47,479.06 629.09,471.92 634.3,469.67" fill="none" stroke="#6f74d0" stroke-width="1.6"/>
<path d="M509.3,516.18 C514.51,514.55 530.13,509.86 540.55,506.39 C550.97,502.92 561.38,499.05 571.8,495.38 C582.22,491.7 592.63,488.44 603.05,484.36 C613.47,480.28 629.09,473.14 634.3,470.9" fill="none" stroke="#3f95da" stroke-width="2.4"/>
<path d="M509.4,517.9 L684.5,517.9 L684.5,378.1 L509.4,378.1 Z" fill="none" stroke="#1a1a1a" stroke-width="1.1"/>
<line x1="506.4" y1="511.9" x2="509.4" y2="511.9" stroke="#1a1a1a" stroke-width="1" />
<line x1="506.4" y1="481.3" x2="509.4" y2="481.3" stroke="#1a1a1a" stroke-width="1" />
<line x1="506.4" y1="450.7" x2="509.4" y2="450.7" stroke="#1a1a1a" stroke-width="1" />
<line x1="506.4" y1="420.1" x2="509.4" y2="420.1" stroke="#1a1a1a" stroke-width="1" />
<line x1="506.4" y1="389.5" x2="509.4" y2="389.5" stroke="#1a1a1a" stroke-width="1" />
<text x="504.6" y="514.5" font-size="8.8" font-weight="bold" fill="#000" stroke="#000" stroke-width="0.28" text-anchor="end" >0.0</text>
<text x="504.6" y="483.9" font-size="8.8" font-weight="bold" fill="#000" stroke="#000" stroke-width="0.28" text-anchor="end" >0.5</text>
<text x="504.6" y="453.3" font-size="8.8" font-weight="bold" fill="#000" stroke="#000" stroke-width="0.28" text-anchor="end" >1.0</text>
<text x="504.6" y="422.7" font-size="8.8" font-weight="bold" fill="#000" stroke="#000" stroke-width="0.28" text-anchor="end" >1.5</text>
<text x="504.6" y="392.1" font-size="8.8" font-weight="bold" fill="#000" stroke="#000" stroke-width="0.28" text-anchor="end" >2.0</text>
<line x1="509.3" y1="517.9" x2="509.3" y2="520.9" stroke="#1a1a1a" stroke-width="1" />
<line x1="571.8" y1="517.9" x2="571.8" y2="520.9" stroke="#1a1a1a" stroke-width="1" />
<line x1="634.3" y1="517.9" x2="634.3" y2="520.9" stroke="#1a1a1a" stroke-width="1" />
<text x="509.3" y="529.9" font-size="8.8" font-weight="bold" fill="#000" stroke="#000" stroke-width="0.28" text-anchor="middle" >0</text>
<text x="571.8" y="529.9" font-size="8.8" font-weight="bold" fill="#000" stroke="#000" stroke-width="0.28" text-anchor="middle" >25</text>
<text x="634.3" y="529.9" font-size="8.8" font-weight="bold" fill="#000" stroke="#000" stroke-width="0.28" text-anchor="middle" >50</text>
<text x="485" y="478.8" font-size="9.6" font-weight="bold" fill="#000" stroke="#000" stroke-width="0.28" textLength="55.7" lengthAdjust="spacingAndGlyphs" transform="rotate(-90 485 478.8)" >Stress (MPa)</text>
<text x="582.4" y="539.5" font-size="9.2" font-weight="bold" fill="#000" stroke="#000" stroke-width="0.28" textLength="43.4" lengthAdjust="spacingAndGlyphs" >Strain (%)</text>
<line x1="526" y1="392.2" x2="547.8" y2="392.2" stroke="#3cc27e" stroke-width="1.3" />
<line x1="526" y1="402.6" x2="547.8" y2="402.6" stroke="#6f74d0" stroke-width="1.3" />
<line x1="526" y1="413.1" x2="547.8" y2="413.1" stroke="#3f95da" stroke-width="1.3" />
<text x="553.3" y="395.1" font-size="8.4" font-weight="bold" fill="#000" stroke="#000" stroke-width="0.28" textLength="34.5" lengthAdjust="spacingAndGlyphs" >1st cycle</text>
<text x="553.3" y="405.5" font-size="8.4" font-weight="bold" fill="#000" stroke="#000" stroke-width="0.28" textLength="39.5" lengthAdjust="spacingAndGlyphs" >10th cycle</text>
<text x="553.3" y="416" font-size="8.4" font-weight="bold" fill="#000" stroke="#000" stroke-width="0.28" textLength="39.5" lengthAdjust="spacingAndGlyphs" >50th cycle</text>
<text x="-0.6" y="570.5" font-size="11" font-weight="bold" fill="#000" stroke="#000" stroke-width="0.28" >j</text>
<polyline points="36.3,596.29 52.65,595.32 69,592.95 85.35,598.01 101.7,594.56 118.05,593.6 134.4,592.95 150.75,596.29 167.1,597.04 183.45,594.56 199.8,598.23" fill="none" stroke="#3f95da" stroke-width="1.1" stroke-linejoin="round" />
<circle cx="36.3" cy="596.29" r="1.75" fill="#3f95da"/>
<circle cx="52.65" cy="595.32" r="1.75" fill="#3f95da"/>
<circle cx="69" cy="592.95" r="1.75" fill="#3f95da"/>
<circle cx="85.35" cy="598.01" r="1.75" fill="#3f95da"/>
<circle cx="101.7" cy="594.56" r="1.75" fill="#3f95da"/>
<circle cx="118.05" cy="593.6" r="1.75" fill="#3f95da"/>
<circle cx="134.4" cy="592.95" r="1.75" fill="#3f95da"/>
<circle cx="150.75" cy="596.29" r="1.75" fill="#3f95da"/>
<circle cx="167.1" cy="597.04" r="1.75" fill="#3f95da"/>
<circle cx="183.45" cy="594.56" r="1.75" fill="#3f95da"/>
<circle cx="199.8" cy="598.23" r="1.75" fill="#3f95da"/>
<rect x="35.7" y="563.9" width="173.9" height="139.7" fill="none" stroke="#1a1a1a" stroke-width="1.1" />
<line x1="32.7" y1="703.5" x2="35.7" y2="703.5" stroke="#1a1a1a" stroke-width="1" />
<line x1="32.7" y1="660.4" x2="35.7" y2="660.4" stroke="#1a1a1a" stroke-width="1" />
<line x1="32.7" y1="617.3" x2="35.7" y2="617.3" stroke="#1a1a1a" stroke-width="1" />
<line x1="32.7" y1="574.2" x2="35.7" y2="574.2" stroke="#1a1a1a" stroke-width="1" />
<line x1="34.1" y1="681.95" x2="35.7" y2="681.95" stroke="#1a1a1a" stroke-width="1" />
<line x1="34.1" y1="638.85" x2="35.7" y2="638.85" stroke="#1a1a1a" stroke-width="1" />
<line x1="34.1" y1="595.75" x2="35.7" y2="595.75" stroke="#1a1a1a" stroke-width="1" />
<text x="31.2" y="706.2" font-size="8.8" font-weight="bold" fill="#000" stroke="#000" stroke-width="0.28" text-anchor="end" >0.0</text>
<text x="31.2" y="663.1" font-size="8.8" font-weight="bold" fill="#000" stroke="#000" stroke-width="0.28" text-anchor="end" >0.4</text>
<text x="31.2" y="620" font-size="8.8" font-weight="bold" fill="#000" stroke="#000" stroke-width="0.28" text-anchor="end" >0.8</text>
<text x="31.2" y="576.9" font-size="8.8" font-weight="bold" fill="#000" stroke="#000" stroke-width="0.28" text-anchor="end" >1.2</text>
<line x1="36.3" y1="703.6" x2="36.3" y2="706.6" stroke="#1a1a1a" stroke-width="1" />
<line x1="69" y1="703.6" x2="69" y2="706.6" stroke="#1a1a1a" stroke-width="1" />
<line x1="101.7" y1="703.6" x2="101.7" y2="706.6" stroke="#1a1a1a" stroke-width="1" />
<line x1="134.4" y1="703.6" x2="134.4" y2="706.6" stroke="#1a1a1a" stroke-width="1" />
<line x1="167.1" y1="703.6" x2="167.1" y2="706.6" stroke="#1a1a1a" stroke-width="1" />
<line x1="199.8" y1="703.6" x2="199.8" y2="706.6" stroke="#1a1a1a" stroke-width="1" />
<line x1="52.65" y1="703.6" x2="52.65" y2="705.2" stroke="#1a1a1a" stroke-width="1" />
<line x1="85.35" y1="703.6" x2="85.35" y2="705.2" stroke="#1a1a1a" stroke-width="1" />
<line x1="118.05" y1="703.6" x2="118.05" y2="705.2" stroke="#1a1a1a" stroke-width="1" />
<line x1="150.75" y1="703.6" x2="150.75" y2="705.2" stroke="#1a1a1a" stroke-width="1" />
<line x1="183.45" y1="703.6" x2="183.45" y2="705.2" stroke="#1a1a1a" stroke-width="1" />
<text x="36.3" y="715.5" font-size="8.8" font-weight="bold" fill="#000" stroke="#000" stroke-width="0.28" text-anchor="middle" >0</text>
<text x="69" y="715.5" font-size="8.8" font-weight="bold" fill="#000" stroke="#000" stroke-width="0.28" text-anchor="middle" >200</text>
<text x="101.7" y="715.5" font-size="8.8" font-weight="bold" fill="#000" stroke="#000" stroke-width="0.28" text-anchor="middle" >400</text>
<text x="134.4" y="715.5" font-size="8.8" font-weight="bold" fill="#000" stroke="#000" stroke-width="0.28" text-anchor="middle" >600</text>
<text x="167.1" y="715.5" font-size="8.8" font-weight="bold" fill="#000" stroke="#000" stroke-width="0.28" text-anchor="middle" >800</text>
<text x="199.8" y="715.5" font-size="8.8" font-weight="bold" fill="#000" stroke="#000" stroke-width="0.28" text-anchor="middle" >1,000</text>
<text x="10" y="646.3" font-size="9.6" font-weight="bold" fill="#000" stroke="#000" stroke-width="0.28" textLength="18" lengthAdjust="spacingAndGlyphs" transform="rotate(-90 10 646.3)" >L/L<tspan font-size="6.5" dy="2">0</tspan></text>
<text x="95" y="731" font-size="9.2" font-weight="bold" fill="#000" stroke="#000" stroke-width="0.28" textLength="56.1" lengthAdjust="spacingAndGlyphs" >Strain cycles</text>
<text x="235.1" y="569.8" font-size="11" font-weight="bold" fill="#000" stroke="#000" stroke-width="0.28" >k</text>
<polyline points="272.9,596.18 289.23,594.78 305.56,594.46 321.89,593.81 338.22,594.24 354.55,596.18 370.88,596.5 387.21,597.04 403.54,593.81 419.87,597.04 436.2,597.47" fill="none" stroke="#3f95da" stroke-width="1.1" stroke-linejoin="round" />
<circle cx="272.9" cy="596.18" r="1.75" fill="#3f95da"/>
<circle cx="289.23" cy="594.78" r="1.75" fill="#3f95da"/>
<circle cx="305.56" cy="594.46" r="1.75" fill="#3f95da"/>
<circle cx="321.89" cy="593.81" r="1.75" fill="#3f95da"/>
<circle cx="338.22" cy="594.24" r="1.75" fill="#3f95da"/>
<circle cx="354.55" cy="596.18" r="1.75" fill="#3f95da"/>
<circle cx="370.88" cy="596.5" r="1.75" fill="#3f95da"/>
<circle cx="387.21" cy="597.04" r="1.75" fill="#3f95da"/>
<circle cx="403.54" cy="593.81" r="1.75" fill="#3f95da"/>
<circle cx="419.87" cy="597.04" r="1.75" fill="#3f95da"/>
<circle cx="436.2" cy="597.47" r="1.75" fill="#3f95da"/>
<rect x="272.3" y="563.9" width="173.9" height="139.7" fill="none" stroke="#1a1a1a" stroke-width="1.1" />
<line x1="269.3" y1="703.5" x2="272.3" y2="703.5" stroke="#1a1a1a" stroke-width="1" />
<line x1="269.3" y1="660.4" x2="272.3" y2="660.4" stroke="#1a1a1a" stroke-width="1" />
<line x1="269.3" y1="617.3" x2="272.3" y2="617.3" stroke="#1a1a1a" stroke-width="1" />
<line x1="269.3" y1="574.2" x2="272.3" y2="574.2" stroke="#1a1a1a" stroke-width="1" />
<line x1="270.7" y1="681.95" x2="272.3" y2="681.95" stroke="#1a1a1a" stroke-width="1" />
<line x1="270.7" y1="638.85" x2="272.3" y2="638.85" stroke="#1a1a1a" stroke-width="1" />
<line x1="270.7" y1="595.75" x2="272.3" y2="595.75" stroke="#1a1a1a" stroke-width="1" />
<text x="267.3" y="706.2" font-size="8.8" font-weight="bold" fill="#000" stroke="#000" stroke-width="0.28" text-anchor="end" >0.0</text>
<text x="267.3" y="663.1" font-size="8.8" font-weight="bold" fill="#000" stroke="#000" stroke-width="0.28" text-anchor="end" >0.4</text>
<text x="267.3" y="620" font-size="8.8" font-weight="bold" fill="#000" stroke="#000" stroke-width="0.28" text-anchor="end" >0.8</text>
<text x="267.3" y="576.9" font-size="8.8" font-weight="bold" fill="#000" stroke="#000" stroke-width="0.28" text-anchor="end" >1.2</text>
<line x1="272.9" y1="703.6" x2="272.9" y2="706.6" stroke="#1a1a1a" stroke-width="1" />
<line x1="305.56" y1="703.6" x2="305.56" y2="706.6" stroke="#1a1a1a" stroke-width="1" />
<line x1="338.22" y1="703.6" x2="338.22" y2="706.6" stroke="#1a1a1a" stroke-width="1" />
<line x1="370.88" y1="703.6" x2="370.88" y2="706.6" stroke="#1a1a1a" stroke-width="1" />
<line x1="403.54" y1="703.6" x2="403.54" y2="706.6" stroke="#1a1a1a" stroke-width="1" />
<line x1="436.2" y1="703.6" x2="436.2" y2="706.6" stroke="#1a1a1a" stroke-width="1" />
<line x1="289.23" y1="703.6" x2="289.23" y2="705.2" stroke="#1a1a1a" stroke-width="1" />
<line x1="321.89" y1="703.6" x2="321.89" y2="705.2" stroke="#1a1a1a" stroke-width="1" />
<line x1="354.55" y1="703.6" x2="354.55" y2="705.2" stroke="#1a1a1a" stroke-width="1" />
<line x1="387.21" y1="703.6" x2="387.21" y2="705.2" stroke="#1a1a1a" stroke-width="1" />
<line x1="419.87" y1="703.6" x2="419.87" y2="705.2" stroke="#1a1a1a" stroke-width="1" />
<text x="272.9" y="715.5" font-size="8.8" font-weight="bold" fill="#000" stroke="#000" stroke-width="0.28" text-anchor="middle" >0</text>
<text x="305.56" y="715.5" font-size="8.8" font-weight="bold" fill="#000" stroke="#000" stroke-width="0.28" text-anchor="middle" >200</text>
<text x="338.22" y="715.5" font-size="8.8" font-weight="bold" fill="#000" stroke="#000" stroke-width="0.28" text-anchor="middle" >400</text>
<text x="370.88" y="715.5" font-size="8.8" font-weight="bold" fill="#000" stroke="#000" stroke-width="0.28" text-anchor="middle" >600</text>
<text x="403.54" y="715.5" font-size="8.8" font-weight="bold" fill="#000" stroke="#000" stroke-width="0.28" text-anchor="middle" >800</text>
<text x="436.2" y="715.5" font-size="8.8" font-weight="bold" fill="#000" stroke="#000" stroke-width="0.28" text-anchor="middle" >1,000</text>
<text x="246.7" y="646.3" font-size="9.6" font-weight="bold" fill="#000" stroke="#000" stroke-width="0.28" textLength="18" lengthAdjust="spacingAndGlyphs" transform="rotate(-90 246.7 646.3)" >L/L<tspan font-size="6.5" dy="2">0</tspan></text>
<text x="320.7" y="731" font-size="9.2" font-weight="bold" fill="#000" stroke="#000" stroke-width="0.28" textLength="84.6" lengthAdjust="spacingAndGlyphs" >Deformation cycles</text>
<text x="469.3" y="569" font-size="11" font-weight="bold" fill="#000" stroke="#000" stroke-width="0.28" >l</text>
<polyline points="516.08,689.63 523.95,675.27 586.95,632.84 665.7,629.97" fill="none" stroke="#f27a2c" stroke-width="1.3" stroke-linejoin="round" />
<rect x="514.48" y="688.03" width="3.2" height="3.2" fill="#f27a2c"/>
<rect x="522.35" y="673.67" width="3.2" height="3.2" fill="#f27a2c"/>
<rect x="585.35" y="631.24" width="3.2" height="3.2" fill="#f27a2c"/>
<rect x="664.1" y="628.37" width="3.2" height="3.2" fill="#f27a2c"/>
<polyline points="516.08,687.71 523.95,673.36 586.95,633.48 665.7,631.25" fill="none" stroke="#3f95da" stroke-width="1.3" stroke-linejoin="round" />
<circle cx="516.08" cy="687.71" r="2" fill="#3f95da"/>
<circle cx="523.95" cy="673.36" r="2" fill="#3f95da"/>
<circle cx="586.95" cy="633.48" r="2" fill="#3f95da"/>
<circle cx="665.7" cy="631.25" r="2" fill="#3f95da"/>
<rect x="508.1" y="563.9" width="173.8" height="140.4" fill="none" stroke="#1a1a1a" stroke-width="1.1" />
<line x1="505.1" y1="704.3" x2="508.1" y2="704.3" stroke="#1a1a1a" stroke-width="1" />
<line x1="505.1" y1="672.4" x2="508.1" y2="672.4" stroke="#1a1a1a" stroke-width="1" />
<line x1="505.1" y1="640.5" x2="508.1" y2="640.5" stroke="#1a1a1a" stroke-width="1" />
<line x1="505.1" y1="608.6" x2="508.1" y2="608.6" stroke="#1a1a1a" stroke-width="1" />
<line x1="505.1" y1="576.7" x2="508.1" y2="576.7" stroke="#1a1a1a" stroke-width="1" />
<line x1="506.5" y1="688.35" x2="508.1" y2="688.35" stroke="#1a1a1a" stroke-width="1" />
<line x1="506.5" y1="656.45" x2="508.1" y2="656.45" stroke="#1a1a1a" stroke-width="1" />
<line x1="506.5" y1="624.55" x2="508.1" y2="624.55" stroke="#1a1a1a" stroke-width="1" />
<line x1="506.5" y1="592.65" x2="508.1" y2="592.65" stroke="#1a1a1a" stroke-width="1" />
<text x="503.2" y="707.2" font-size="8.8" font-weight="bold" fill="#000" stroke="#000" stroke-width="0.28" text-anchor="end" >0</text>
<text x="503.2" y="675.3" font-size="8.8" font-weight="bold" fill="#000" stroke="#000" stroke-width="0.28" text-anchor="end" >50</text>
<text x="503.2" y="643.4" font-size="8.8" font-weight="bold" fill="#000" stroke="#000" stroke-width="0.28" text-anchor="end" >100</text>
<text x="503.2" y="611.5" font-size="8.8" font-weight="bold" fill="#000" stroke="#000" stroke-width="0.28" text-anchor="end" >150</text>
<text x="503.2" y="579.6" font-size="8.8" font-weight="bold" fill="#000" stroke="#000" stroke-width="0.28" text-anchor="end" >200</text>
<line x1="508.2" y1="704.3" x2="508.2" y2="707.3" stroke="#1a1a1a" stroke-width="1" />
<line x1="539.7" y1="704.3" x2="539.7" y2="707.3" stroke="#1a1a1a" stroke-width="1" />
<line x1="571.2" y1="704.3" x2="571.2" y2="707.3" stroke="#1a1a1a" stroke-width="1" />
<line x1="602.7" y1="704.3" x2="602.7" y2="707.3" stroke="#1a1a1a" stroke-width="1" />
<line x1="634.2" y1="704.3" x2="634.2" y2="707.3" stroke="#1a1a1a" stroke-width="1" />
<line x1="665.7" y1="704.3" x2="665.7" y2="707.3" stroke="#1a1a1a" stroke-width="1" />
<line x1="523.95" y1="704.3" x2="523.95" y2="705.9" stroke="#1a1a1a" stroke-width="1" />
<line x1="555.45" y1="704.3" x2="555.45" y2="705.9" stroke="#1a1a1a" stroke-width="1" />
<line x1="586.95" y1="704.3" x2="586.95" y2="705.9" stroke="#1a1a1a" stroke-width="1" />
<line x1="618.45" y1="704.3" x2="618.45" y2="705.9" stroke="#1a1a1a" stroke-width="1" />
<line x1="649.95" y1="704.3" x2="649.95" y2="705.9" stroke="#1a1a1a" stroke-width="1" />
<text x="508.2" y="717" font-size="8.8" font-weight="bold" fill="#000" stroke="#000" stroke-width="0.28" text-anchor="middle" >0</text>
<text x="539.7" y="717" font-size="8.8" font-weight="bold" fill="#000" stroke="#000" stroke-width="0.28" text-anchor="middle" >200</text>
<text x="571.2" y="717" font-size="8.8" font-weight="bold" fill="#000" stroke="#000" stroke-width="0.28" text-anchor="middle" >400</text>
<text x="602.7" y="717" font-size="8.8" font-weight="bold" fill="#000" stroke="#000" stroke-width="0.28" text-anchor="middle" >600</text>
<text x="634.2" y="717" font-size="8.8" font-weight="bold" fill="#000" stroke="#000" stroke-width="0.28" text-anchor="middle" >800</text>
<text x="665.7" y="717" font-size="8.8" font-weight="bold" fill="#000" stroke="#000" stroke-width="0.28" text-anchor="middle" >1,000</text>
<text x="483.6" y="680.8" font-size="9.6" font-weight="bold" fill="#000" stroke="#000" stroke-width="0.28" textLength="86" lengthAdjust="spacingAndGlyphs" transform="rotate(-90 483.6 680.8)" >Luminance (cd m<tspan font-size="6" dy="-3.5">-2</tspan><tspan dy="3.5">)</tspan></text>
<text x="571" y="730.4" font-size="9.2" font-weight="bold" fill="#000" stroke="#000" stroke-width="0.28" textLength="66.6" lengthAdjust="spacingAndGlyphs" >Frequency (Hz)</text>
<line x1="521.2" y1="582.1" x2="542.9" y2="582.1" stroke="#f27a2c" stroke-width="1.3" />
<rect x="529.3" y="579.2" width="5.8" height="5.8" fill="#f27a2c" />
<line x1="521.2" y1="592.6" x2="542.9" y2="592.6" stroke="#3f95da" stroke-width="1.3" />
<circle cx="532.2" cy="592.6" r="3" fill="#3f95da"/>
<text x="549.4" y="584.7" font-size="8.8" font-weight="bold" fill="#000" stroke="#000" stroke-width="0.28" textLength="29.6" lengthAdjust="spacingAndGlyphs" >Pristine</text>
<text x="549.4" y="595" font-size="8.8" font-weight="bold" fill="#000" stroke="#000" stroke-width="0.28" textLength="50.6" lengthAdjust="spacingAndGlyphs" >After 60 days</text>
<rect x="569" y="659.7" width="106.5" height="41.6" fill="#000" />
<radialGradient id="ig00" cx="0.5" cy="0.5" r="0.7"><stop offset="0.3" stop-color="#124a38"/><stop offset="1" stop-color="#06140f"/></radialGradient>
<rect x="569.7" y="660.2" width="25.9" height="18.3" fill="url(#ig00)"/>
<rect x="573.9" y="663.8" width="17.3" height="10.7" fill="#3fc8a0" filter="url(#blur2)"/>
<rect x="574.4" y="664.2" width="16.5" height="9.9" fill="#fbfffd" filter="url(#blur1)"/>
<radialGradient id="ig01" cx="0.5" cy="0.5" r="0.7"><stop offset="0.3" stop-color="#124a38"/><stop offset="1" stop-color="#06140f"/></radialGradient>
<rect x="569.7" y="679.8" width="25.9" height="17.8" fill="url(#ig01)"/>
<rect x="573.9" y="683.4" width="17.3" height="10.2" fill="#3fc8a0" filter="url(#blur2)"/>
<rect x="574.4" y="683.8" width="16.5" height="9.4" fill="#fbfffd" filter="url(#blur1)"/>
<radialGradient id="ig10" cx="0.5" cy="0.5" r="0.7"><stop offset="0.3" stop-color="#124a38"/><stop offset="1" stop-color="#06140f"/></radialGradient>
<rect x="596.8" y="660.2" width="25.4" height="18.3" fill="url(#ig10)"/>
<rect x="601" y="663.8" width="16.8" height="10.7" fill="#3fc8a0" filter="url(#blur2)"/>
<rect x="601.5" y="664.2" width="16" height="9.9" fill="#fbfffd" filter="url(#blur1)"/>
<radialGradient id="ig11" cx="0.5" cy="0.5" r="0.7"><stop offset="0.3" stop-color="#124a38"/><stop offset="1" stop-color="#06140f"/></radialGradient>
<rect x="596.8" y="679.8" width="25.4" height="17.8" fill="url(#ig11)"/>
<rect x="601" y="683.4" width="16.8" height="10.2" fill="#3fc8a0" filter="url(#blur2)"/>
<rect x="601.5" y="683.8" width="16" height="9.4" fill="#fbfffd" filter="url(#blur1)"/>
<radialGradient id="ig20" cx="0.5" cy="0.5" r="0.7"><stop offset="0.3" stop-color="#1f8a8a"/><stop offset="1" stop-color="#0a3a3a"/></radialGradient>
<rect x="623.1" y="660.2" width="24.4" height="18.3" fill="url(#ig20)"/>
<rect x="627.3" y="663.8" width="15.8" height="10.7" fill="#60e8e8" filter="url(#blur2)"/>
<rect x="627.8" y="664.2" width="15" height="9.9" fill="#fbfffd" filter="url(#blur1)"/>
<radialGradient id="ig21" cx="0.5" cy="0.5" r="0.7"><stop offset="0.3" stop-color="#1f8a8a"/><stop offset="1" stop-color="#0a3a3a"/></radialGradient>
<rect x="623.1" y="679.8" width="24.4" height="17.8" fill="url(#ig21)"/>
<rect x="627.3" y="683.4" width="15.8" height="10.2" fill="#60e8e8" filter="url(#blur2)"/>
<rect x="627.8" y="683.8" width="15" height="9.4" fill="#fbfffd" filter="url(#blur1)"/>
<radialGradient id="ig30" cx="0.5" cy="0.5" r="0.7"><stop offset="0.3" stop-color="#2590b8"/><stop offset="1" stop-color="#0c3a58"/></radialGradient>
<rect x="648.7" y="660.2" width="26.3" height="18.3" fill="url(#ig30)"/>
<rect x="652.9" y="663.8" width="17.7" height="10.7" fill="#70e0f8" filter="url(#blur2)"/>
<rect x="653.4" y="664.2" width="16.9" height="9.9" fill="#fbfffd" filter="url(#blur1)"/>
<radialGradient id="ig31" cx="0.5" cy="0.5" r="0.7"><stop offset="0.3" stop-color="#2590b8"/><stop offset="1" stop-color="#0c3a58"/></radialGradient>
<rect x="648.7" y="679.8" width="26.3" height="17.8" fill="url(#ig31)"/>
<rect x="652.9" y="683.4" width="17.7" height="10.2" fill="#70e0f8" filter="url(#blur2)"/>
<rect x="653.4" y="683.8" width="16.9" height="9.4" fill="#fbfffd" filter="url(#blur1)"/>
<line x1="654" y1="699.3" x2="671.7" y2="699.3" stroke="#fff" stroke-width="2" />
<text x="571.1" y="657.8" font-size="6.6" font-weight="bold" fill="#000" stroke="#000" stroke-width="0.28" textLength="18.2" lengthAdjust="spacingAndGlyphs" >50 Hz</text>
<text x="598" y="657.8" font-size="6.6" font-weight="bold" fill="#000" stroke="#000" stroke-width="0.28" textLength="21.9" lengthAdjust="spacingAndGlyphs" >100 Hz</text>
<text x="624.2" y="657.8" font-size="6.6" font-weight="bold" fill="#000" stroke="#000" stroke-width="0.28" textLength="21.6" lengthAdjust="spacingAndGlyphs" >500 Hz</text>
<text x="648.9" y="657.8" font-size="6.6" font-weight="bold" fill="#000" stroke="#000" stroke-width="0.28" textLength="25.1" lengthAdjust="spacingAndGlyphs" >1000 Hz</text>
<text x="541.6" y="672.6" font-size="6.8" font-weight="bold" fill="#000" stroke="#000" stroke-width="0.28" textLength="25.4" lengthAdjust="spacingAndGlyphs" >Pristine</text>
<text x="524.1" y="691.7" font-size="6.8" font-weight="bold" fill="#000" stroke="#000" stroke-width="0.28" textLength="43.3" lengthAdjust="spacingAndGlyphs" >After 60 days</text>
</svg></body></html>
